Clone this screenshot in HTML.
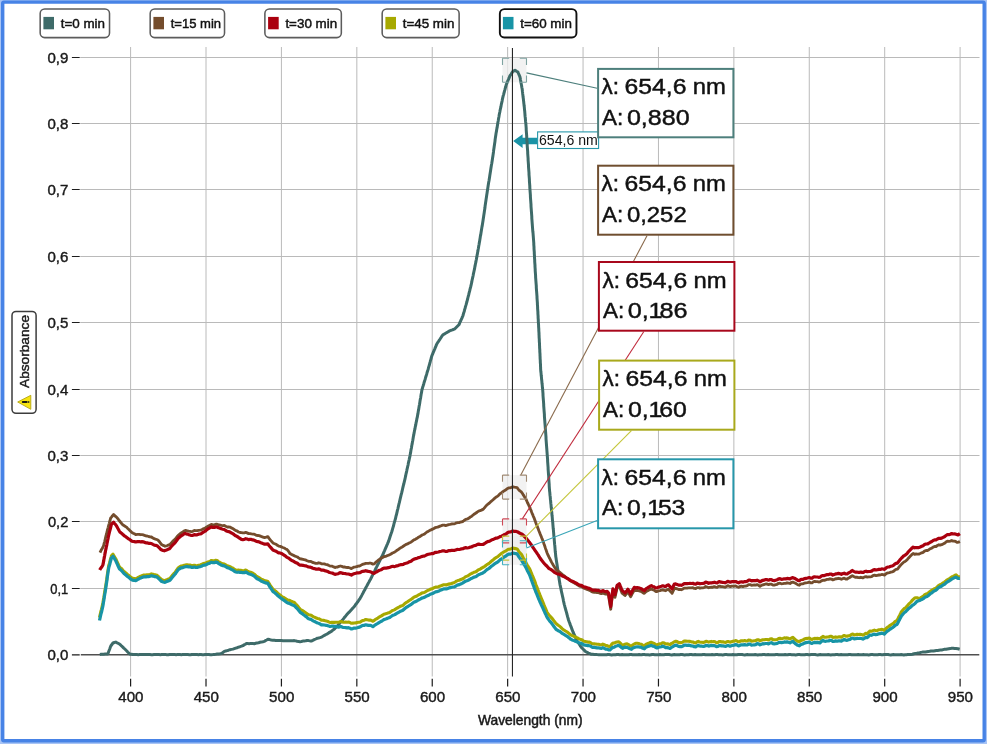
<!DOCTYPE html>
<html lang="en"><head><meta charset="utf-8"><title>Absorbance spectra</title>
<style>
html,body{margin:0;padding:0;background:#fff;}
body{width:987px;height:744px;overflow:hidden;position:relative;font-family:"Liberation Sans",Arial,sans-serif;}
svg text{font-kerning:normal;}
</style></head><body>
<svg width="987" height="744" viewBox="0 0 987 744" style="position:absolute;left:0;top:0;display:block">
<rect x="0" y="0" width="987" height="744" fill="#fff"/>
<path d="M130.60,47 V676.5 M206.01,47 V676.5 M281.42,47 V676.5 M356.83,47 V676.5 M432.24,47 V676.5 M507.64,47 V676.5 M583.05,47 V676.5 M658.46,47 V676.5 M733.87,47 V676.5 M809.28,47 V676.5 M884.69,47 V676.5 M960.10,47 V676.5 M80.2,588.50 H979.5 M80.2,521.50 H979.5 M80.2,455.50 H979.5 M80.2,389.50 H979.5 M80.2,322.50 H979.5 M80.2,256.50 H979.5 M80.2,189.50 H979.5 M80.2,123.50 H979.5 M80.2,57.50 H979.5" stroke="#bababa" stroke-width="1" fill="none"/>
<path d="M80.8,654.80 H979.3" stroke="#505050" stroke-width="1.5" fill="none"/>
<path d="M71.9,654.80 H79.7 M71.9,588.50 H79.7 M71.9,521.50 H79.7 M71.9,455.50 H79.7 M71.9,389.50 H79.7 M71.9,322.50 H79.7 M71.9,256.50 H79.7 M71.9,189.50 H79.7 M71.9,123.50 H79.7 M71.9,57.50 H79.7 M130.60,678.7 V686.4 M206.01,678.7 V686.4 M281.42,678.7 V686.4 M356.83,678.7 V686.4 M432.24,678.7 V686.4 M507.64,678.7 V686.4 M583.05,678.7 V686.4 M658.46,678.7 V686.4 M733.87,678.7 V686.4 M809.28,678.7 V686.4 M884.69,678.7 V686.4 M960.10,678.7 V686.4" stroke="#1c1c1c" stroke-width="1.2" fill="none"/>
<g font-family="'Liberation Sans', Arial, sans-serif" font-size="14.3px" fill="#1a1a1a" stroke="#1a1a1a" stroke-width="0.4" lengthAdjust="spacingAndGlyphs">
<text x="68.3" y="659.5" text-anchor="end" textLength="20.9" lengthAdjust="spacingAndGlyphs">0,0</text>
<text x="68.3" y="593.5" text-anchor="end" textLength="18.0" lengthAdjust="spacingAndGlyphs">0,1</text>
<text x="68.3" y="526.5" text-anchor="end" textLength="20.4" lengthAdjust="spacingAndGlyphs">0,2</text>
<text x="68.3" y="460.5" text-anchor="end" textLength="20.9" lengthAdjust="spacingAndGlyphs">0,3</text>
<text x="68.3" y="394.5" text-anchor="end" textLength="20.9" lengthAdjust="spacingAndGlyphs">0,4</text>
<text x="68.3" y="327.5" text-anchor="end" textLength="20.9" lengthAdjust="spacingAndGlyphs">0,5</text>
<text x="68.3" y="261.5" text-anchor="end" textLength="20.9" lengthAdjust="spacingAndGlyphs">0,6</text>
<text x="68.3" y="194.5" text-anchor="end" textLength="20.9" lengthAdjust="spacingAndGlyphs">0,7</text>
<text x="68.3" y="128.5" text-anchor="end" textLength="20.9" lengthAdjust="spacingAndGlyphs">0,8</text>
<text x="68.3" y="62.5" text-anchor="end" textLength="20.9" lengthAdjust="spacingAndGlyphs">0,9</text>
<text x="130.9" y="701.9" text-anchor="middle" textLength="25.2" lengthAdjust="spacingAndGlyphs">400</text>
<text x="206.3" y="701.9" text-anchor="middle" textLength="25.2" lengthAdjust="spacingAndGlyphs">450</text>
<text x="281.7" y="701.9" text-anchor="middle" textLength="25.2" lengthAdjust="spacingAndGlyphs">500</text>
<text x="357.1" y="701.9" text-anchor="middle" textLength="25.2" lengthAdjust="spacingAndGlyphs">550</text>
<text x="432.5" y="701.9" text-anchor="middle" textLength="25.2" lengthAdjust="spacingAndGlyphs">600</text>
<text x="507.9" y="701.9" text-anchor="middle" textLength="25.2" lengthAdjust="spacingAndGlyphs">650</text>
<text x="583.4" y="701.9" text-anchor="middle" textLength="25.2" lengthAdjust="spacingAndGlyphs">700</text>
<text x="658.8" y="701.9" text-anchor="middle" textLength="25.2" lengthAdjust="spacingAndGlyphs">750</text>
<text x="734.2" y="701.9" text-anchor="middle" textLength="25.2" lengthAdjust="spacingAndGlyphs">800</text>
<text x="809.6" y="701.9" text-anchor="middle" textLength="25.2" lengthAdjust="spacingAndGlyphs">850</text>
<text x="885.0" y="701.9" text-anchor="middle" textLength="25.2" lengthAdjust="spacingAndGlyphs">900</text>
<text x="960.4" y="701.9" text-anchor="middle" textLength="25.2" lengthAdjust="spacingAndGlyphs">950</text>
</g>
<text x="530.3" y="724.5" text-anchor="middle" font-family="'Liberation Sans', Arial, sans-serif" font-size="13.9px" fill="#1a1a1a" stroke="#1a1a1a" stroke-width="0.5" textLength="104.6" lengthAdjust="spacingAndGlyphs">Wavelength (nm)</text>
<rect x="502.5" y="58.3" width="24.0" height="24.0" fill="#eeeeee" fill-opacity="0.75"/>
<rect x="502.5" y="475.1" width="24.0" height="24.0" fill="#eeeeee" fill-opacity="0.75"/>
<rect x="502.5" y="518.9" width="24.0" height="24.0" fill="#eeeeee" fill-opacity="0.75"/>
<rect x="502.5" y="536.1" width="24.0" height="24.0" fill="#eeeeee" fill-opacity="0.75"/>
<rect x="502.5" y="540.8" width="24.0" height="24.0" fill="#eeeeee" fill-opacity="0.75"/>
<path d="M513.2,141 L522.6,134.2 L522.6,137.8 L537.3,137.8 L537.3,144.3 L522.6,144.3 L522.6,147.9 Z" fill="#1a93a6"/>
<path d="M99.8,654.4 L101.1,654.3 L102.5,654.3 L103.8,654.3 L105.1,654.1 L106.5,654.0 L107.8,654.1 L108.3,652.7 L108.8,651.3 L109.3,650.0 L109.8,648.7 L110.3,647.3 L110.8,646.0 L111.9,644.5 L113.0,643.0 L114.4,642.5 L115.8,642.1 L117.1,642.8 L118.5,643.5 L119.8,644.3 L120.8,645.2 L121.8,646.2 L122.8,647.1 L123.8,648.1 L124.8,649.0 L125.8,650.0 L126.8,651.0 L127.7,652.0 L128.7,653.0 L129.7,654.0 L131.3,654.3 L133.0,654.6 L134.3,654.5 L135.6,654.5 L136.9,654.6 L138.2,654.7 L139.5,654.6 L140.8,654.6 L142.1,654.6 L143.4,654.6 L144.8,654.6 L146.1,654.6 L147.4,654.6 L148.7,654.5 L150.0,654.6 L151.3,654.7 L152.6,654.7 L153.9,654.6 L155.2,654.6 L156.5,654.5 L157.8,654.5 L159.1,654.6 L160.4,654.7 L161.7,654.6 L163.0,654.6 L164.3,654.6 L165.6,654.6 L166.9,654.7 L168.2,654.7 L169.6,654.5 L170.9,654.5 L172.2,654.6 L173.5,654.6 L174.8,654.6 L176.1,654.7 L177.4,654.6 L178.7,654.5 L180.0,654.6 L181.3,654.7 L182.6,654.6 L183.9,654.5 L185.3,654.6 L186.6,654.6 L187.9,654.6 L189.2,654.7 L190.5,654.7 L191.8,654.5 L193.2,654.5 L194.5,654.6 L195.8,654.6 L197.1,654.6 L198.4,654.7 L199.7,654.5 L201.1,654.6 L202.4,654.7 L203.7,654.7 L205.0,654.6 L206.3,654.6 L207.6,654.5 L209.0,654.5 L210.3,654.7 L211.6,654.7 L212.9,654.6 L214.3,654.4 L215.7,654.3 L217.2,654.1 L218.6,653.9 L220.0,653.8 L221.4,653.5 L222.9,652.5 L224.3,651.4 L225.7,651.0 L227.2,650.6 L228.6,650.2 L230.0,649.7 L231.4,649.4 L232.9,649.1 L234.3,648.6 L235.7,648.1 L237.2,647.7 L238.6,647.1 L240.0,646.7 L241.5,646.2 L242.9,645.6 L244.1,644.9 L245.2,644.3 L246.4,643.6 L247.7,643.6 L249.0,643.7 L250.4,643.6 L251.7,643.5 L253.0,643.6 L254.3,643.7 L255.7,643.3 L257.2,642.9 L258.6,642.7 L260.0,642.3 L261.4,642.1 L262.9,641.8 L264.3,641.4 L265.5,640.6 L266.7,640.0 L267.9,639.3 L269.6,639.6 L271.2,640.0 L272.9,640.3 L274.3,640.3 L275.8,640.5 L277.2,640.5 L278.6,640.5 L280.0,640.5 L281.5,640.6 L282.9,640.7 L284.3,640.8 L285.8,640.7 L287.2,640.7 L288.6,640.7 L290.0,640.7 L291.4,640.7 L292.9,640.7 L294.3,640.6 L295.7,640.9 L297.1,641.3 L298.6,641.5 L300.0,641.7 L301.4,641.5 L302.8,641.1 L304.3,640.9 L305.7,640.8 L307.1,640.5 L308.5,640.6 L310.0,640.9 L311.4,641.0 L312.8,640.4 L314.2,639.7 L315.7,639.0 L317.1,638.3 L318.5,638.0 L320.0,637.6 L321.4,637.1 L322.5,636.5 L323.7,635.8 L324.9,635.1 L326.0,634.5 L327.4,633.8 L328.7,632.9 L330.0,632.1 L331.4,631.4 L332.5,630.4 L333.7,629.5 L334.9,628.5 L336.0,627.5 L337.0,626.3 L338.0,625.2 L339.0,624.0 L340.0,622.9 L340.9,621.8 L341.8,620.7 L342.7,619.7 L343.6,618.6 L344.4,617.5 L345.3,616.5 L346.2,615.4 L347.1,614.3 L348.0,613.3 L348.9,612.4 L349.8,611.4 L350.7,610.4 L351.6,609.4 L352.5,608.4 L353.4,607.5 L354.3,606.5 L355.1,605.4 L355.9,604.2 L356.7,603.2 L357.6,602.0 L358.4,600.9 L359.2,599.7 L360.0,598.6 L360.6,597.4 L361.3,596.2 L361.9,595.1 L362.5,593.9 L363.2,592.7 L363.8,591.5 L364.4,590.4 L365.1,589.2 L365.7,588.0 L366.3,586.8 L367.0,585.7 L367.6,584.5 L368.2,583.3 L368.9,582.2 L369.5,581.0 L370.1,579.9 L370.8,578.7 L371.4,577.5 L372.0,576.2 L372.7,574.9 L373.3,573.7 L373.9,572.4 L374.6,571.1 L375.2,569.8 L375.8,568.5 L376.5,567.2 L377.1,566.0 L377.7,564.7 L378.4,563.5 L379.0,562.2 L379.7,560.9 L380.3,559.6 L381.0,558.3 L381.6,557.0 L382.3,555.8 L382.9,554.5 L383.5,553.2 L384.0,551.9 L384.6,550.6 L385.1,549.3 L385.7,548.0 L386.3,546.7 L386.8,545.4 L387.4,544.1 L387.9,542.8 L388.5,541.5 L388.9,540.2 L389.4,538.9 L389.8,537.5 L390.2,536.2 L390.7,534.9 L391.1,533.6 L391.6,532.3 L392.0,531.0 L392.4,529.6 L392.8,528.2 L393.2,526.8 L393.6,525.5 L393.9,524.1 L394.3,522.7 L394.7,521.3 L395.1,519.9 L395.5,518.5 L395.8,517.2 L396.1,515.8 L396.5,514.5 L396.8,513.1 L397.1,511.8 L397.4,510.4 L397.8,509.1 L398.1,507.7 L398.4,506.4 L398.7,505.1 L399.0,503.7 L399.4,502.4 L399.7,501.0 L400.0,499.7 L400.3,498.4 L400.6,497.1 L400.9,495.8 L401.2,494.5 L401.6,493.2 L401.9,491.9 L402.2,490.6 L402.5,489.2 L402.8,487.9 L403.1,486.6 L403.4,485.3 L403.8,484.0 L404.1,482.7 L404.4,481.4 L404.7,480.1 L405.0,478.8 L405.3,477.5 L405.6,476.2 L405.8,475.0 L406.1,473.7 L406.4,472.4 L406.7,471.1 L406.9,469.9 L407.2,468.6 L407.5,467.3 L407.8,466.0 L408.1,464.8 L408.3,463.5 L408.6,462.2 L408.9,460.9 L409.2,459.6 L409.4,458.4 L409.7,457.1 L410.0,455.8 L410.2,454.5 L410.5,453.2 L410.7,451.9 L410.9,450.6 L411.1,449.3 L411.4,448.1 L411.6,446.8 L411.8,445.5 L412.1,444.2 L412.3,442.9 L412.5,441.6 L412.8,440.3 L413.0,439.1 L413.2,437.8 L413.4,436.5 L413.7,435.2 L413.9,433.9 L414.2,432.6 L414.4,431.2 L414.7,429.9 L415.0,428.6 L415.2,427.2 L415.5,425.9 L415.8,424.6 L416.0,423.2 L416.3,421.9 L416.6,420.6 L416.8,419.2 L417.1,417.9 L417.4,416.6 L417.6,415.2 L417.9,413.9 L418.1,412.6 L418.3,411.2 L418.6,409.9 L418.8,408.6 L419.0,407.3 L419.2,405.9 L419.5,404.6 L419.7,403.3 L419.9,401.9 L420.1,400.6 L420.3,399.3 L420.6,398.0 L420.8,396.6 L421.0,395.3 L421.2,394.0 L421.5,392.7 L421.7,391.3 L421.9,390.0 L422.3,388.8 L422.6,387.5 L423.0,386.3 L423.4,385.0 L423.8,383.7 L424.1,382.5 L424.5,381.2 L424.9,380.0 L425.3,378.7 L425.6,377.5 L426.0,376.2 L426.4,375.0 L426.8,373.7 L427.1,372.5 L427.5,371.2 L427.9,370.0 L428.3,368.7 L428.6,367.4 L429.0,366.1 L429.4,364.8 L429.7,363.5 L430.1,362.2 L430.4,360.9 L430.8,359.6 L431.2,358.3 L431.5,357.0 L431.9,355.7 L432.5,354.4 L433.0,353.0 L433.6,351.7 L434.1,350.4 L434.7,349.1 L435.2,347.8 L435.8,346.4 L436.3,345.1 L436.9,343.8 L437.6,342.7 L438.4,341.6 L439.1,340.4 L439.9,339.3 L440.6,338.2 L441.4,337.0 L442.1,335.9 L442.9,334.8 L444.1,334.2 L445.2,333.5 L446.4,332.8 L447.6,332.1 L448.7,331.4 L449.9,330.7 L451.1,330.3 L452.4,329.9 L453.6,329.3 L454.9,328.8 L455.9,327.8 L456.9,326.8 L457.9,325.8 L458.9,324.8 L459.5,323.5 L460.0,322.2 L460.6,321.0 L461.2,319.7 L461.8,318.4 L462.3,317.1 L462.9,315.8 L463.3,314.5 L463.6,313.2 L464.0,312.0 L464.4,310.7 L464.7,309.4 L465.1,308.2 L465.4,306.9 L465.8,305.6 L466.2,304.4 L466.5,303.1 L466.9,301.8 L467.2,300.5 L467.6,299.2 L467.9,297.8 L468.2,296.5 L468.6,295.2 L468.9,293.9 L469.2,292.5 L469.6,291.2 L469.9,289.9 L470.2,288.5 L470.6,287.2 L470.9,285.9 L471.2,284.6 L471.5,283.2 L471.8,281.9 L472.0,280.6 L472.3,279.2 L472.6,277.9 L472.9,276.6 L473.2,275.2 L473.4,273.9 L473.7,272.6 L474.0,271.2 L474.3,269.9 L474.6,268.6 L474.8,267.2 L475.1,265.9 L475.3,264.6 L475.6,263.2 L475.9,261.9 L476.1,260.6 L476.4,259.2 L476.6,257.9 L476.9,256.6 L477.1,255.2 L477.4,253.9 L477.6,252.5 L477.9,251.1 L478.1,249.7 L478.4,248.3 L478.6,247.0 L478.8,245.6 L479.1,244.2 L479.3,242.8 L479.6,241.4 L479.8,240.0 L480.0,238.7 L480.2,237.4 L480.4,236.1 L480.7,234.9 L480.9,233.6 L481.1,232.3 L481.3,231.0 L481.5,229.7 L481.7,228.4 L481.9,227.2 L482.2,225.9 L482.4,224.6 L482.6,223.3 L482.8,222.0 L483.0,220.7 L483.2,219.3 L483.4,218.0 L483.6,216.7 L483.8,215.3 L484.0,214.0 L484.2,212.7 L484.4,211.3 L484.6,210.0 L484.8,208.7 L485.0,207.3 L485.1,206.0 L485.3,204.7 L485.5,203.3 L485.7,202.0 L485.9,200.7 L486.1,199.3 L486.3,198.0 L486.5,196.7 L486.7,195.3 L486.9,194.0 L487.1,192.7 L487.3,191.3 L487.5,190.0 L487.7,188.7 L487.9,187.4 L488.1,186.1 L488.3,184.8 L488.5,183.5 L488.7,182.2 L489.0,180.8 L489.2,179.5 L489.4,178.2 L489.6,176.9 L489.8,175.6 L490.0,174.3 L490.2,173.0 L490.4,171.7 L490.6,170.4 L490.8,169.1 L491.0,167.8 L491.2,166.5 L491.4,165.2 L491.7,163.8 L491.9,162.5 L492.1,161.2 L492.3,159.9 L492.5,158.6 L492.7,157.3 L492.9,156.0 L493.1,154.6 L493.3,153.3 L493.5,151.9 L493.6,150.6 L493.8,149.2 L494.0,147.9 L494.2,146.5 L494.4,145.2 L494.6,143.8 L494.8,142.5 L495.0,141.1 L495.1,139.8 L495.3,138.4 L495.5,137.1 L495.7,135.7 L495.9,134.4 L496.1,133.0 L496.4,131.7 L496.6,130.3 L496.8,129.0 L497.1,127.7 L497.3,126.3 L497.5,125.0 L497.7,123.7 L497.9,122.3 L498.2,121.0 L498.4,119.6 L498.6,118.3 L498.9,117.0 L499.1,115.6 L499.3,114.3 L499.6,113.0 L499.9,111.6 L500.1,110.3 L500.4,109.0 L500.7,107.7 L501.0,106.4 L501.2,105.0 L501.5,103.7 L501.8,102.4 L502.1,101.1 L502.3,99.8 L502.6,98.4 L502.9,97.1 L503.2,95.8 L503.6,94.6 L503.9,93.3 L504.3,92.0 L504.6,90.7 L505.0,89.4 L505.3,88.1 L505.7,86.8 L506.0,85.6 L506.4,84.3 L506.9,83.1 L507.4,81.8 L507.9,80.6 L508.5,79.4 L509.0,78.2 L509.5,76.9 L510.0,75.7 L511.0,74.3 L511.9,72.9 L512.9,71.4 L515.0,70.3 L516.5,71.3 L517.9,72.1 L518.4,73.4 L519.0,74.6 L519.5,75.8 L520.0,77.1 L520.3,78.5 L520.5,80.0 L520.8,81.4 L521.0,82.8 L521.3,84.3 L521.6,85.7 L521.8,87.2 L522.1,88.6 L522.3,89.9 L522.4,91.2 L522.6,92.6 L522.7,93.9 L522.9,95.2 L523.0,96.5 L523.2,97.8 L523.4,99.2 L523.5,100.5 L523.7,101.8 L523.8,103.1 L524.0,104.5 L524.1,105.8 L524.3,107.1 L524.4,108.4 L524.5,109.8 L524.7,111.1 L524.8,112.4 L524.9,113.7 L525.0,115.1 L525.1,116.4 L525.3,117.7 L525.4,119.1 L525.5,120.4 L525.6,121.7 L525.8,123.0 L525.9,124.4 L526.0,125.7 L526.1,127.0 L526.2,128.3 L526.2,129.7 L526.3,131.0 L526.4,132.3 L526.5,133.6 L526.6,134.9 L526.7,136.2 L526.7,137.6 L526.8,138.9 L526.9,140.2 L527.0,141.5 L527.1,142.8 L527.2,144.1 L527.2,145.5 L527.3,146.8 L527.4,148.1 L527.5,149.4 L527.6,150.7 L527.7,152.0 L527.7,153.4 L527.8,154.7 L527.9,156.0 L528.0,157.3 L528.1,158.6 L528.1,159.9 L528.2,161.2 L528.3,162.5 L528.4,163.8 L528.5,165.2 L528.5,166.5 L528.6,167.8 L528.7,169.1 L528.8,170.4 L528.9,171.7 L529.0,173.0 L529.0,174.3 L529.1,175.6 L529.2,176.9 L529.3,178.2 L529.4,179.5 L529.4,180.8 L529.5,182.2 L529.6,183.5 L529.7,184.8 L529.8,186.1 L529.8,187.4 L529.9,188.7 L530.0,190.0 L530.1,191.3 L530.2,192.7 L530.3,194.0 L530.4,195.3 L530.4,196.7 L530.5,198.0 L530.6,199.3 L530.7,200.7 L530.8,202.0 L530.9,203.3 L531.0,204.7 L531.0,206.0 L531.1,207.3 L531.2,208.7 L531.3,210.0 L531.4,211.3 L531.5,212.7 L531.6,214.0 L531.7,215.3 L531.8,216.7 L531.8,218.0 L531.9,219.3 L532.0,220.7 L532.1,222.0 L532.2,223.3 L532.3,224.7 L532.4,226.0 L532.5,227.3 L532.6,228.7 L532.7,230.0 L532.8,231.3 L533.0,232.7 L533.1,234.0 L533.2,235.3 L533.3,236.7 L533.4,238.0 L533.5,239.3 L533.6,240.7 L533.7,242.0 L533.8,243.3 L533.8,244.6 L533.9,245.9 L534.0,247.2 L534.0,248.5 L534.1,249.8 L534.2,251.1 L534.3,252.4 L534.3,253.7 L534.4,255.0 L534.5,256.3 L534.5,257.6 L534.6,258.9 L534.7,260.2 L534.7,261.5 L534.8,262.8 L534.9,264.1 L535.0,265.4 L535.0,266.7 L535.1,268.0 L535.2,269.3 L535.2,270.6 L535.3,271.9 L535.4,273.2 L535.5,274.5 L535.6,275.8 L535.6,277.1 L535.7,278.4 L535.8,279.7 L535.9,281.0 L536.0,282.3 L536.1,283.6 L536.2,284.9 L536.3,286.2 L536.3,287.5 L536.4,288.8 L536.5,290.1 L536.6,291.4 L536.7,292.7 L536.8,294.0 L536.9,295.3 L537.0,296.6 L537.0,297.9 L537.1,299.2 L537.2,300.5 L537.3,301.8 L537.4,303.1 L537.4,304.4 L537.5,305.7 L537.6,307.0 L537.6,308.3 L537.7,309.6 L537.8,310.9 L537.9,312.2 L537.9,313.5 L538.0,314.8 L538.1,316.2 L538.1,317.5 L538.2,318.8 L538.3,320.1 L538.3,321.4 L538.4,322.7 L538.5,324.0 L538.6,325.3 L538.6,326.6 L538.7,327.9 L538.8,329.2 L538.8,330.5 L538.9,331.8 L539.0,333.1 L539.0,334.4 L539.1,335.8 L539.1,337.1 L539.2,338.4 L539.3,339.7 L539.3,341.0 L539.4,342.3 L539.5,343.7 L539.5,345.0 L539.6,346.3 L539.6,347.6 L539.7,348.9 L539.8,350.2 L539.8,351.6 L539.9,352.9 L540.0,354.2 L540.0,355.5 L540.1,356.8 L540.1,358.1 L540.2,359.5 L540.3,360.8 L540.3,362.1 L540.4,363.4 L540.5,364.7 L540.5,366.0 L540.6,367.4 L540.6,368.7 L540.7,370.0 L540.8,371.3 L541.0,372.7 L541.1,374.0 L541.2,375.3 L541.4,376.7 L541.5,378.0 L541.6,379.3 L541.8,380.7 L541.9,382.0 L542.0,383.3 L542.2,384.7 L542.3,386.0 L542.4,387.3 L542.6,388.7 L542.7,390.0 L542.8,391.3 L542.9,392.6 L543.0,393.9 L543.0,395.2 L543.1,396.5 L543.2,397.8 L543.3,399.1 L543.4,400.4 L543.5,401.7 L543.6,403.0 L543.7,404.3 L543.7,405.6 L543.8,406.9 L543.9,408.2 L544.0,409.5 L544.1,410.8 L544.2,412.1 L544.3,413.4 L544.4,414.7 L544.4,416.0 L544.5,417.3 L544.6,418.6 L544.7,419.9 L544.8,421.2 L544.9,422.6 L545.0,423.9 L545.1,425.2 L545.2,426.5 L545.3,427.9 L545.4,429.2 L545.5,430.5 L545.6,431.9 L545.7,433.2 L545.8,434.5 L545.9,435.9 L546.0,437.2 L546.0,438.5 L546.1,439.8 L546.2,441.2 L546.3,442.5 L546.4,443.8 L546.5,445.2 L546.6,446.5 L546.7,447.8 L546.8,449.2 L546.9,450.5 L547.0,451.8 L547.1,453.1 L547.2,454.5 L547.3,455.8 L547.4,457.1 L547.5,458.4 L547.6,459.7 L547.6,461.0 L547.7,462.3 L547.8,463.6 L547.9,465.0 L548.0,466.3 L548.1,467.6 L548.1,468.9 L548.2,470.2 L548.3,471.5 L548.4,472.8 L548.5,474.1 L548.6,475.4 L548.7,476.7 L548.7,478.0 L548.8,479.3 L548.9,480.6 L549.0,482.0 L549.1,483.3 L549.2,484.6 L549.2,485.9 L549.3,487.2 L549.4,488.5 L549.5,489.8 L549.6,491.1 L549.8,492.5 L549.9,493.8 L550.0,495.2 L550.2,496.5 L550.3,497.9 L550.4,499.2 L550.6,500.5 L550.7,501.9 L550.8,503.2 L551.0,504.6 L551.1,505.9 L551.2,507.3 L551.4,508.6 L551.5,509.9 L551.6,511.3 L551.8,512.6 L551.9,514.0 L552.0,515.3 L552.2,516.7 L552.3,518.0 L552.4,519.3 L552.5,520.6 L552.7,521.9 L552.8,523.2 L552.9,524.6 L553.0,525.9 L553.1,527.2 L553.2,528.5 L553.4,529.8 L553.5,531.1 L553.6,532.4 L553.7,533.7 L553.8,535.0 L553.9,536.3 L554.1,537.7 L554.2,539.0 L554.3,540.3 L554.4,541.6 L554.5,542.9 L554.6,544.2 L554.8,545.5 L554.9,546.8 L555.0,548.1 L555.1,549.5 L555.2,550.8 L555.3,552.1 L555.5,553.4 L555.6,554.7 L555.7,556.0 L555.9,557.3 L556.1,558.6 L556.3,559.9 L556.5,561.2 L556.7,562.5 L556.9,563.8 L557.1,565.1 L557.3,566.4 L557.5,567.7 L557.7,569.0 L557.9,570.3 L558.0,571.6 L558.2,572.9 L558.4,574.2 L558.6,575.5 L558.8,576.8 L559.0,578.1 L559.2,579.4 L559.4,580.7 L559.6,582.0 L559.8,583.3 L560.0,584.6 L560.3,585.9 L560.6,587.3 L560.9,588.6 L561.1,589.9 L561.4,591.3 L561.7,592.6 L562.0,593.9 L562.3,595.3 L562.6,596.6 L562.9,597.9 L563.2,599.3 L563.4,600.6 L563.7,601.9 L564.0,603.3 L564.3,604.6 L564.7,605.9 L565.0,607.2 L565.4,608.5 L565.7,609.8 L566.1,611.1 L566.5,612.4 L566.8,613.8 L567.2,615.1 L567.5,616.4 L567.9,617.7 L568.2,619.0 L568.6,620.3 L569.1,621.6 L569.6,622.8 L570.0,624.1 L570.5,625.4 L571.0,626.6 L571.5,627.9 L571.9,629.2 L572.4,630.4 L572.9,631.7 L573.5,633.0 L574.1,634.3 L574.7,635.7 L575.3,637.0 L575.9,638.4 L576.5,639.7 L577.1,641.0 L578.0,642.3 L578.8,643.5 L579.7,644.8 L580.5,646.1 L581.4,647.4 L582.5,648.5 L583.5,649.5 L584.6,650.6 L585.7,651.7 L587.1,652.3 L588.5,653.0 L590.0,653.7 L591.4,654.3 L592.8,654.3 L594.3,654.4 L595.7,654.4 L597.1,654.6 L598.6,654.7 L600.0,654.7 L601.3,654.7 L602.6,654.7 L603.9,654.7 L605.2,654.7 L606.5,654.8 L607.8,654.6 L609.1,654.5 L610.4,654.7 L611.7,654.9 L613.0,654.8 L614.3,654.7 L615.6,654.7 L616.9,654.5 L618.3,654.6 L619.6,654.8 L620.9,654.7 L622.2,654.6 L623.5,654.7 L624.8,654.7 L626.1,654.7 L627.4,654.8 L628.7,654.8 L630.0,654.5 L631.3,654.5 L632.6,654.7 L633.9,654.8 L635.2,654.8 L636.5,654.8 L637.8,654.7 L639.1,654.6 L640.4,654.7 L641.7,654.8 L643.0,654.6 L644.3,654.6 L645.6,654.7 L646.9,654.7 L648.2,654.8 L649.5,654.9 L650.8,654.7 L652.2,654.5 L653.5,654.6 L654.8,654.7 L656.1,654.7 L657.4,654.8 L658.7,654.8 L660.0,654.6 L661.3,654.7 L662.6,654.8 L663.9,654.8 L665.2,654.6 L666.5,654.6 L667.8,654.6 L669.1,654.6 L670.4,654.8 L671.7,654.9 L673.0,654.7 L674.3,654.6 L675.6,654.7 L676.9,654.7 L678.2,654.7 L679.5,654.8 L680.8,654.6 L682.1,654.5 L683.4,654.7 L684.7,654.9 L686.1,654.8 L687.4,654.7 L688.7,654.7 L690.0,654.5 L691.3,654.6 L692.6,654.8 L693.9,654.8 L695.2,654.6 L696.5,654.7 L697.8,654.7 L699.1,654.7 L700.4,654.8 L701.7,654.7 L703.0,654.5 L704.3,654.5 L705.6,654.8 L706.9,654.8 L708.2,654.8 L709.5,654.8 L710.8,654.7 L712.1,654.6 L713.4,654.7 L714.7,654.8 L716.0,654.6 L717.3,654.6 L718.6,654.7 L719.9,654.7 L721.3,654.8 L722.6,654.9 L723.9,654.7 L725.2,654.5 L726.5,654.6 L727.8,654.7 L729.1,654.7 L730.4,654.8 L731.7,654.8 L733.0,654.6 L734.3,654.7 L735.6,654.8 L736.9,654.8 L738.2,654.6 L739.5,654.6 L740.8,654.6 L742.1,654.6 L743.4,654.8 L744.7,654.9 L746.0,654.7 L747.3,654.6 L748.6,654.7 L749.9,654.7 L751.2,654.7 L752.5,654.8 L753.8,654.7 L755.2,654.6 L756.5,654.7 L757.8,654.9 L759.1,654.8 L760.4,654.7 L761.7,654.7 L763.0,654.5 L764.3,654.6 L765.6,654.8 L766.9,654.8 L768.2,654.6 L769.5,654.7 L770.8,654.7 L772.1,654.7 L773.4,654.8 L774.7,654.7 L776.0,654.5 L777.3,654.5 L778.6,654.8 L779.9,654.8 L781.2,654.8 L782.5,654.8 L783.8,654.7 L785.1,654.6 L786.4,654.7 L787.7,654.8 L789.1,654.6 L790.4,654.6 L791.7,654.7 L793.0,654.7 L794.3,654.8 L795.6,654.9 L796.9,654.7 L798.2,654.5 L799.5,654.6 L800.8,654.7 L802.1,654.7 L803.4,654.8 L804.7,654.8 L806.0,654.6 L807.3,654.6 L808.6,654.8 L809.9,654.8 L811.2,654.6 L812.5,654.6 L813.8,654.6 L815.1,654.6 L816.4,654.8 L817.7,654.9 L819.0,654.7 L820.3,654.6 L821.6,654.7 L822.9,654.7 L824.3,654.7 L825.6,654.8 L826.9,654.7 L828.2,654.6 L829.5,654.7 L830.8,654.9 L832.1,654.8 L833.4,654.7 L834.7,654.7 L836.0,654.5 L837.3,654.6 L838.6,654.8 L839.9,654.8 L841.2,654.6 L842.5,654.7 L843.8,654.7 L845.1,654.7 L846.4,654.8 L847.7,654.7 L849.0,654.5 L850.3,654.5 L851.6,654.8 L852.9,654.8 L854.2,654.8 L855.5,654.8 L856.8,654.7 L858.2,654.5 L859.5,654.7 L860.8,654.8 L862.1,654.7 L863.4,654.6 L864.7,654.7 L866.0,654.7 L867.3,654.8 L868.6,654.9 L869.9,654.7 L871.2,654.5 L872.5,654.6 L873.8,654.7 L875.1,654.7 L876.4,654.8 L877.7,654.8 L879.0,654.6 L880.3,654.6 L881.6,654.8 L882.9,654.8 L884.2,654.6 L885.5,654.6 L886.8,654.6 L888.1,654.6 L889.4,654.8 L890.7,654.9 L892.1,654.7 L893.4,654.6 L894.7,654.7 L896.0,654.7 L897.3,654.7 L898.6,654.8 L899.9,654.7 L901.2,654.6 L902.5,654.7 L903.8,654.9 L905.1,654.7 L906.4,654.7 L907.7,654.6 L909.0,654.6 L910.7,654.4 L912.3,654.2 L914.0,653.7 L915.4,653.4 L916.8,653.2 L918.2,652.9 L919.6,652.7 L921.0,652.4 L922.5,652.1 L923.9,652.0 L925.4,652.0 L926.8,651.7 L928.2,651.5 L929.7,651.3 L931.0,651.0 L932.4,651.0 L933.7,650.9 L935.0,650.7 L936.4,650.5 L937.7,650.4 L939.0,650.2 L940.4,650.1 L941.7,650.0 L943.1,649.6 L944.6,649.3 L946.0,649.2 L947.4,649.0 L948.8,648.8 L950.3,648.6 L951.7,648.3 L953.1,648.3 L954.6,648.5 L956.0,648.5 L957.9,648.8 L959.7,649.3" stroke="#3e6b69" stroke-width="3.0" fill="none" stroke-linejoin="round" stroke-linecap="butt"/>
<path d="M100.0,552.6 L100.7,551.1 L101.4,549.8 L102.2,548.5 L102.9,547.1 L103.6,545.7 L103.9,544.4 L104.2,543.1 L104.6,541.8 L104.9,540.5 L105.2,539.2 L105.5,537.9 L105.8,536.6 L106.1,535.3 L106.5,534.0 L106.8,532.7 L107.1,531.4 L107.5,530.0 L107.8,528.7 L108.2,527.3 L108.5,526.0 L108.9,524.6 L109.3,523.3 L109.6,522.0 L110.0,520.7 L110.3,519.3 L110.7,518.0 L111.7,516.9 L112.6,515.6 L113.6,514.5 L114.7,515.6 L115.8,516.6 L116.8,517.6 L117.9,518.7 L118.7,519.9 L119.6,521.0 L120.4,522.0 L121.3,523.0 L122.1,524.2 L123.5,525.3 L125.0,526.2 L126.4,527.1 L127.5,528.2 L128.6,529.2 L129.6,530.2 L130.7,531.4 L131.9,532.5 L133.2,533.2 L134.4,533.8 L135.7,534.6 L137.4,534.3 L139.0,534.3 L140.7,534.7 L142.0,534.6 L143.3,534.8 L144.5,535.4 L145.8,535.8 L147.1,536.0 L148.6,536.5 L150.0,536.8 L151.4,537.0 L152.9,538.0 L154.2,538.7 L155.4,539.1 L156.7,539.5 L157.9,540.0 L158.8,541.0 L159.7,542.0 L160.5,543.2 L161.4,544.4 L162.6,545.1 L163.8,545.6 L165.0,546.2 L166.2,545.9 L167.5,545.5 L168.8,544.9 L170.0,544.5 L171.1,543.3 L172.2,542.0 L173.2,540.8 L174.3,539.9 L175.2,539.1 L176.0,538.1 L176.9,537.0 L177.7,536.0 L178.6,535.1 L179.7,534.2 L180.9,533.2 L182.0,532.4 L183.2,531.7 L184.3,530.8 L185.7,530.5 L187.2,530.8 L188.6,531.2 L190.0,531.4 L191.4,531.6 L192.8,531.3 L194.3,530.5 L195.7,530.6 L197.1,530.6 L198.6,530.3 L200.0,530.2 L201.4,529.9 L202.7,529.1 L203.9,528.6 L205.2,528.2 L206.4,527.2 L207.7,526.3 L208.9,525.7 L210.2,525.1 L211.4,524.4 L212.8,524.8 L214.2,524.8 L215.7,524.2 L217.1,524.2 L218.6,524.8 L220.0,525.0 L221.4,525.4 L222.9,525.6 L224.3,525.5 L225.7,526.3 L227.2,527.0 L228.6,526.9 L230.0,527.1 L231.2,527.8 L232.5,528.3 L233.7,529.2 L234.9,530.1 L236.1,530.7 L237.4,531.2 L238.6,532.0 L240.0,532.5 L241.4,532.6 L242.9,532.9 L244.3,532.8 L245.7,532.4 L247.1,532.9 L248.6,533.6 L250.0,533.6 L251.5,533.9 L252.9,534.1 L254.2,534.2 L255.4,534.8 L256.6,535.4 L257.9,535.5 L259.1,535.6 L260.4,536.1 L261.6,536.7 L262.9,537.1 L264.6,537.6 L266.2,537.2 L267.9,536.6 L268.9,538.2 L269.9,539.5 L270.9,540.6 L271.9,541.7 L272.9,542.9 L274.1,543.5 L275.3,544.0 L276.5,544.6 L277.8,545.6 L279.0,546.2 L280.2,546.4 L281.4,546.9 L282.8,547.5 L284.2,548.0 L285.7,548.9 L287.1,549.6 L288.1,550.7 L289.0,552.1 L290.0,553.6 L291.2,554.3 L292.5,554.9 L293.7,555.4 L294.9,556.1 L296.1,556.5 L297.4,557.0 L298.6,557.9 L300.0,558.8 L301.4,559.0 L302.9,559.3 L304.3,559.7 L305.7,560.0 L307.1,560.7 L308.5,561.3 L310.0,561.3 L311.4,561.7 L312.8,562.5 L314.3,562.8 L315.7,563.3 L317.1,563.3 L318.6,562.8 L320.0,563.1 L321.4,563.8 L322.9,563.8 L324.3,563.9 L325.6,564.3 L327.0,564.6 L328.3,565.1 L329.6,565.9 L331.0,566.1 L332.3,566.2 L333.7,566.9 L335.0,567.5 L336.3,567.2 L337.7,567.0 L339.0,566.4 L340.4,566.0 L341.8,566.4 L343.1,567.0 L344.5,567.0 L345.9,567.3 L347.3,567.5 L348.6,567.5 L350.0,568.0 L351.4,568.6 L352.8,567.8 L354.2,567.1 L355.6,566.9 L357.0,566.5 L358.2,566.2 L359.5,566.0 L360.7,565.4 L362.0,564.6 L363.2,564.2 L364.5,563.9 L365.7,563.3 L367.1,563.3 L368.6,563.4 L370.0,563.0 L371.4,563.4 L372.9,564.1 L374.3,563.9 L375.3,562.8 L376.3,561.9 L377.3,561.1 L378.4,560.2 L379.4,559.4 L380.4,558.8 L381.4,558.1 L382.6,557.4 L383.9,556.7 L385.1,556.5 L386.4,556.1 L387.6,555.5 L388.9,555.1 L390.1,554.5 L391.4,553.7 L392.5,553.0 L393.7,552.5 L394.8,551.9 L396.0,551.1 L397.1,550.2 L398.3,549.5 L399.4,548.7 L400.6,547.8 L401.8,547.2 L402.9,546.6 L404.0,545.7 L405.2,544.9 L406.3,544.3 L407.5,543.9 L408.6,543.3 L409.7,542.7 L410.9,542.2 L412.0,541.4 L413.2,540.4 L414.3,539.7 L415.4,539.3 L416.6,538.6 L417.7,537.8 L418.9,537.1 L420.0,536.5 L421.1,535.7 L422.3,534.9 L423.4,534.5 L424.6,533.9 L425.7,533.0 L426.9,532.0 L428.0,531.4 L429.2,530.8 L430.3,530.1 L431.5,529.6 L432.6,529.1 L433.9,528.5 L435.1,527.7 L436.4,527.4 L437.6,527.2 L438.9,526.6 L440.1,526.1 L441.4,525.7 L442.8,525.2 L444.3,525.1 L445.7,525.6 L447.1,525.2 L448.5,524.6 L450.0,524.4 L451.4,524.0 L452.7,523.8 L454.0,523.9 L455.2,523.5 L456.5,522.8 L457.8,522.6 L459.1,522.6 L460.3,522.2 L461.6,521.8 L462.9,521.5 L464.1,520.5 L465.3,519.6 L466.5,519.2 L467.8,518.8 L469.0,518.0 L470.2,517.1 L471.4,516.5 L472.5,515.5 L473.7,514.5 L474.8,513.8 L476.0,513.1 L477.1,512.1 L478.6,511.1 L480.0,510.7 L481.4,510.1 L482.9,509.4 L483.9,508.4 L485.0,507.2 L486.1,505.9 L487.1,504.8 L488.1,504.0 L489.2,503.3 L490.2,502.3 L491.2,501.3 L492.2,500.5 L493.3,499.6 L494.3,498.6 L495.3,497.7 L496.3,497.0 L497.3,496.4 L498.4,495.5 L499.4,494.4 L500.4,493.5 L501.4,492.8 L502.5,492.0 L503.7,491.1 L504.8,490.4 L506.0,489.7 L507.1,488.7 L508.6,487.9 L510.0,487.8 L511.4,487.4 L512.9,486.8 L514.3,487.2 L515.7,487.4 L517.1,487.7 L518.2,489.1 L519.2,490.3 L520.3,491.2 L521.4,492.0 L522.3,493.3 L523.1,494.6 L524.0,495.9 L524.8,497.2 L525.7,498.5 L526.3,499.9 L526.9,501.3 L527.5,502.7 L528.2,504.0 L528.8,505.3 L529.4,506.5 L530.0,507.8 L530.5,509.2 L531.1,510.6 L531.6,512.0 L532.1,513.3 L532.7,514.6 L533.2,516.0 L533.8,517.3 L534.3,518.6 L534.8,519.9 L535.3,521.2 L535.7,522.4 L536.2,523.7 L536.7,524.9 L537.2,526.1 L537.6,527.4 L538.1,528.6 L538.6,529.9 L539.1,531.3 L539.7,532.7 L540.2,534.1 L540.8,535.5 L541.3,536.8 L541.8,538.1 L542.4,539.4 L542.9,540.7 L543.4,542.1 L543.8,543.4 L544.3,544.8 L544.8,546.2 L545.2,547.5 L545.7,548.9 L546.2,550.2 L546.6,551.6 L547.1,553.0 L547.7,554.3 L548.3,555.6 L548.9,556.9 L549.6,558.2 L550.2,559.4 L550.8,560.6 L551.4,561.9 L552.1,563.1 L552.8,564.3 L553.5,565.5 L554.3,566.7 L555.0,567.9 L555.7,569.1 L556.8,570.1 L557.8,570.9 L558.9,571.6 L559.9,572.3 L561.0,573.4 L562.1,574.4 L563.2,575.2 L564.3,576.0 L565.4,576.8 L566.4,577.7 L567.5,578.3 L568.6,579.1 L569.7,580.1 L570.8,581.0 L571.8,581.6 L572.9,582.2 L574.1,582.8 L575.3,583.6 L576.6,584.3 L577.8,585.1 L579.0,585.9 L580.2,586.3 L581.5,586.6 L582.7,587.4 L583.9,588.2 L585.2,588.6 L586.5,589.1 L587.8,589.7 L589.1,590.1 L590.4,590.7 L591.7,591.7 L593.0,592.1 L594.3,592.3 L595.7,592.4 L597.1,592.5 L598.6,592.7 L600.0,593.3 L601.4,593.6 L602.8,593.0 L604.3,593.6 L605.7,594.1 L607.1,593.9 L608.6,595.7 L608.8,597.0 L609.0,598.4 L609.2,599.7 L609.4,601.1 L609.7,602.4 L609.9,603.8 L610.1,605.2 L610.3,606.5 L610.5,607.9 L610.7,609.2 L610.9,607.8 L611.0,606.5 L611.2,605.1 L611.4,603.7 L611.5,602.4 L611.7,601.0 L611.9,599.6 L612.1,598.3 L612.2,596.9 L612.4,595.6 L612.6,594.2 L612.7,592.9 L612.9,591.5 L613.4,593.0 L614.0,594.5 L614.5,595.9 L615.0,597.3 L615.3,595.9 L615.6,594.6 L615.9,593.2 L616.2,591.9 L616.5,590.6 L616.8,589.2 L617.1,587.9 L619.3,586.3 L619.9,587.7 L620.4,589.0 L621.0,590.4 L621.5,591.7 L622.1,593.1 L623.1,593.9 L624.0,594.6 L625.0,595.5 L626.0,594.4 L626.9,593.2 L627.9,591.9 L628.6,593.1 L629.3,594.3 L630.0,595.5 L630.7,596.7 L631.4,595.3 L632.1,593.9 L632.9,592.5 L633.6,591.2 L634.3,590.1 L635.7,590.6 L637.2,590.4 L638.6,590.6 L640.0,591.2 L641.5,591.6 L642.9,592.7 L644.3,593.4 L645.5,592.1 L646.7,591.2 L647.8,590.7 L649.0,590.1 L650.2,589.4 L651.4,588.9 L652.5,589.7 L653.5,590.0 L654.6,590.5 L655.7,591.5 L657.1,591.5 L658.5,590.8 L660.0,590.6 L661.4,590.2 L662.8,589.8 L664.3,590.4 L665.7,590.7 L667.2,589.6 L668.6,589.3 L669.8,590.8 L670.9,591.9 L672.1,593.3 L672.6,592.1 L673.2,590.9 L673.8,589.7 L674.3,588.4 L675.7,588.3 L677.1,588.8 L678.6,589.5 L680.0,589.4 L681.4,589.7 L682.8,589.0 L684.2,588.1 L685.7,588.1 L687.1,588.1 L688.5,587.9 L690.0,587.8 L691.4,587.9 L692.9,587.7 L694.3,588.4 L695.7,588.5 L697.2,587.6 L698.6,587.7 L700.0,588.2 L701.5,587.9 L702.9,587.9 L704.3,587.5 L705.7,586.5 L707.2,587.0 L708.6,587.7 L710.0,587.3 L711.4,587.2 L712.8,587.2 L714.3,586.7 L715.7,587.1 L717.1,587.3 L718.4,586.4 L719.7,586.1 L721.1,586.6 L722.4,586.7 L723.7,586.9 L725.0,587.2 L726.4,586.5 L727.7,585.7 L729.0,586.2 L730.3,586.6 L731.7,586.1 L733.0,586.2 L734.3,586.2 L735.7,586.0 L737.2,586.7 L738.6,587.3 L740.0,586.5 L741.5,586.2 L742.9,586.6 L744.3,586.1 L745.8,586.0 L747.2,585.7 L748.6,584.6 L750.0,584.6 L751.5,585.3 L752.9,585.1 L754.3,585.0 L755.7,585.1 L757.1,584.6 L758.6,585.3 L760.0,586.3 L761.4,585.4 L762.8,584.8 L764.3,584.5 L765.7,584.0 L767.1,584.0 L768.5,584.6 L770.0,584.1 L771.4,584.2 L772.9,585.0 L774.3,585.1 L775.7,584.7 L777.1,584.3 L778.6,583.3 L780.0,583.2 L781.4,583.8 L782.8,583.6 L784.3,583.3 L785.7,583.3 L787.1,582.8 L788.6,583.1 L790.0,583.5 L791.4,582.5 L792.9,582.1 L794.3,582.7 L795.5,583.3 L796.8,584.1 L798.0,584.9 L799.3,585.2 L800.5,584.1 L801.8,583.9 L803.0,583.8 L804.3,583.2 L806.0,582.8 L807.6,582.6 L809.3,582.1 L810.6,582.8 L812.0,582.8 L813.3,581.8 L814.6,581.4 L815.9,581.7 L817.3,581.6 L818.6,582.0 L820.0,581.9 L821.4,580.9 L822.9,580.2 L824.3,580.3 L825.7,579.8 L827.1,579.4 L828.6,579.4 L830.0,578.8 L831.4,579.1 L832.8,579.9 L834.2,579.4 L835.7,578.7 L837.1,578.7 L838.5,578.3 L840.0,578.6 L841.4,579.2 L842.8,578.6 L844.2,578.2 L845.7,579.0 L847.1,579.0 L848.4,578.1 L849.7,577.5 L851.0,576.5 L852.3,575.6 L853.7,576.5 L855.2,577.2 L856.6,577.2 L858.1,577.5 L859.5,577.7 L860.8,577.3 L862.1,577.7 L863.4,577.7 L864.7,576.8 L866.0,576.6 L867.3,577.1 L868.8,576.9 L870.2,576.8 L871.6,576.6 L873.1,575.5 L874.5,575.1 L876.0,575.6 L877.4,575.3 L878.8,575.0 L880.2,575.0 L881.7,574.5 L883.1,574.7 L884.5,575.1 L885.8,574.0 L887.0,573.1 L888.3,572.8 L889.5,572.6 L890.8,572.2 L892.1,571.9 L893.4,571.4 L894.7,570.2 L896.0,569.4 L897.3,569.2 L898.2,568.2 L899.0,567.1 L899.9,566.0 L900.7,565.1 L901.6,564.1 L902.8,563.0 L903.9,562.0 L905.1,561.4 L906.2,560.6 L907.4,559.4 L908.4,558.2 L909.3,557.2 L910.2,556.3 L911.2,555.3 L912.1,554.3 L913.1,553.5 L914.5,554.3 L916.0,554.0 L917.4,554.1 L918.8,554.1 L920.2,553.5 L921.7,552.8 L923.1,552.3 L924.5,551.1 L926.0,550.5 L927.5,550.5 L928.9,549.7 L930.3,548.7 L931.8,548.1 L933.2,547.1 L934.6,546.5 L936.0,546.5 L937.4,545.5 L938.9,544.8 L940.3,545.0 L941.7,544.7 L943.1,544.0 L944.5,543.3 L946.0,542.0 L947.4,541.1 L948.8,541.4 L950.3,541.1 L951.7,540.5 L953.1,541.1 L954.6,541.2 L956.0,541.7 L957.3,542.4 L958.6,542.1 L959.9,541.5" stroke="#744d2d" stroke-width="2.85" fill="none" stroke-linejoin="round" stroke-linecap="butt"/>
<path d="M99.7,570.0 L100.5,568.6 L101.3,567.5 L102.1,566.3 L102.9,565.0 L103.2,563.7 L103.4,562.3 L103.7,560.9 L103.9,559.5 L104.2,558.2 L104.4,556.8 L104.7,555.5 L104.9,554.1 L105.2,552.7 L105.4,551.4 L105.7,550.0 L106.0,548.7 L106.2,547.4 L106.5,546.1 L106.8,544.8 L107.0,543.5 L107.3,542.2 L107.5,540.9 L107.8,539.6 L108.1,538.3 L108.3,537.0 L108.6,535.7 L108.9,534.4 L109.2,533.2 L109.5,531.9 L109.8,530.7 L110.2,529.4 L110.5,528.2 L110.8,526.9 L111.1,525.6 L111.4,524.3 L112.5,523.2 L113.6,522.2 L114.5,523.4 L115.5,524.6 L116.4,525.7 L117.1,527.0 L117.8,528.3 L118.6,529.7 L119.3,531.0 L120.0,532.2 L121.1,532.9 L122.2,533.8 L123.2,534.8 L124.3,535.8 L125.4,536.4 L126.4,537.2 L127.5,538.1 L128.6,538.8 L129.6,539.4 L130.7,540.4 L131.9,541.2 L133.2,541.5 L134.4,541.6 L135.7,542.0 L137.4,541.6 L139.0,541.5 L140.7,541.8 L142.0,541.7 L143.3,541.8 L144.5,542.4 L145.8,542.8 L147.1,542.9 L148.6,543.3 L150.0,543.4 L151.4,543.5 L152.9,544.4 L154.3,545.1 L155.7,545.3 L157.1,545.8 L158.3,546.9 L159.5,548.0 L160.7,549.3 L161.9,550.0 L163.1,550.5 L164.3,550.8 L165.6,550.3 L166.8,549.9 L168.1,549.3 L169.3,548.8 L170.3,547.8 L171.3,546.6 L172.3,545.4 L173.3,544.4 L174.3,543.5 L175.2,542.5 L176.0,541.4 L176.9,540.2 L177.7,539.0 L178.6,537.9 L179.7,537.1 L180.9,536.1 L182.0,535.3 L183.2,534.6 L184.3,533.7 L185.7,533.7 L187.2,534.1 L188.6,534.6 L190.0,535.0 L191.4,535.5 L192.8,535.3 L194.3,534.6 L195.7,534.8 L197.1,534.8 L198.6,534.2 L200.0,534.0 L201.4,533.6 L202.7,532.5 L203.9,531.9 L205.2,531.2 L206.4,530.1 L207.7,529.1 L208.9,528.4 L210.2,527.7 L211.4,526.9 L212.8,527.4 L214.2,527.5 L215.7,526.9 L217.1,527.0 L218.6,527.8 L220.0,528.2 L221.4,528.8 L222.9,529.2 L224.3,529.5 L225.7,530.5 L227.2,531.3 L228.6,531.6 L230.0,532.1 L231.1,532.8 L232.3,533.4 L233.4,534.1 L234.6,535.1 L235.7,535.8 L236.8,536.3 L238.0,537.0 L239.1,537.9 L240.3,538.7 L241.4,539.4 L242.8,539.6 L244.3,539.4 L245.7,538.7 L247.1,539.0 L248.5,539.6 L250.0,539.4 L251.4,539.4 L252.7,539.9 L254.0,540.1 L255.2,540.7 L256.5,541.5 L257.8,541.7 L259.1,541.9 L260.3,542.5 L261.6,543.1 L262.9,543.6 L264.6,544.2 L266.2,544.2 L267.9,543.9 L268.9,545.4 L269.9,546.6 L270.9,547.7 L271.9,548.8 L272.9,550.0 L274.1,550.5 L275.3,550.9 L276.5,551.5 L277.8,552.4 L279.0,552.9 L280.2,553.0 L281.4,553.4 L282.5,554.2 L283.7,554.9 L284.8,555.6 L286.0,556.6 L287.1,557.3 L288.6,558.1 L290.0,559.2 L291.2,560.1 L292.5,560.8 L293.7,561.4 L294.9,562.2 L296.1,562.7 L297.4,563.3 L298.6,564.3 L300.0,565.1 L301.4,565.1 L302.9,565.3 L304.3,565.6 L305.7,565.8 L307.1,566.4 L308.5,567.0 L310.0,567.1 L311.4,567.5 L312.8,568.2 L314.3,568.6 L315.7,569.1 L317.1,569.2 L318.6,568.9 L320.0,569.3 L321.4,570.1 L322.9,570.2 L324.3,570.4 L325.6,570.9 L327.0,571.2 L328.3,571.8 L329.6,572.5 L331.0,572.8 L332.3,573.0 L333.7,573.7 L335.0,574.3 L336.7,574.0 L338.3,573.7 L340.0,572.7 L341.4,572.8 L342.9,573.4 L344.3,573.5 L345.7,573.7 L347.1,574.0 L348.5,574.0 L350.0,574.5 L351.4,575.1 L352.8,574.2 L354.2,573.6 L355.7,573.3 L357.1,572.9 L358.5,572.8 L360.0,572.7 L361.4,571.8 L362.8,571.3 L364.3,571.2 L365.7,570.7 L367.1,571.1 L368.6,571.5 L370.0,571.6 L371.4,572.2 L372.9,573.1 L374.3,573.3 L375.5,572.4 L376.8,571.8 L378.0,571.0 L379.2,570.3 L380.4,569.9 L381.7,569.4 L382.9,568.5 L384.3,568.1 L385.8,568.2 L387.2,567.9 L388.6,567.6 L390.0,567.3 L391.4,566.6 L392.9,566.3 L394.3,566.6 L395.6,566.3 L396.8,565.8 L398.1,565.6 L399.4,565.1 L400.6,564.7 L401.9,564.6 L403.2,564.5 L404.4,563.7 L405.7,563.3 L406.9,562.9 L408.2,562.4 L409.4,561.8 L410.7,561.4 L411.9,560.6 L413.2,559.6 L414.4,559.0 L415.7,558.6 L417.1,558.2 L418.6,557.6 L420.0,557.2 L421.4,556.6 L422.9,556.2 L424.3,556.1 L425.7,555.4 L427.1,554.6 L428.5,554.3 L429.8,554.0 L431.2,553.7 L432.6,553.7 L434.1,553.0 L435.5,552.3 L437.0,552.3 L438.5,552.0 L439.9,551.5 L441.4,551.2 L442.8,550.8 L444.3,550.9 L445.7,551.5 L447.1,551.3 L448.5,550.7 L450.0,550.7 L451.4,550.4 L452.8,550.3 L454.3,550.5 L455.7,549.9 L457.1,549.4 L458.6,549.5 L460.0,549.3 L461.5,548.9 L462.9,548.7 L464.3,548.0 L465.7,547.6 L467.1,548.0 L468.6,547.7 L470.0,547.2 L471.4,547.0 L472.8,546.2 L474.2,545.6 L475.7,545.4 L477.1,544.6 L478.6,544.1 L480.0,544.4 L481.4,544.5 L482.9,544.5 L484.3,543.8 L485.8,542.7 L487.2,541.8 L488.6,541.4 L490.0,540.9 L491.4,540.1 L492.9,539.6 L494.3,538.9 L495.7,538.2 L497.1,538.1 L498.5,537.5 L500.0,536.6 L501.4,536.2 L502.5,535.6 L503.7,535.0 L504.8,534.4 L506.0,533.9 L507.1,533.0 L508.6,532.2 L510.0,532.0 L511.4,531.6 L512.9,531.0 L514.3,531.4 L515.8,531.4 L517.2,531.7 L518.6,532.5 L520.0,533.3 L521.5,533.9 L522.9,534.9 L524.0,536.0 L525.0,537.0 L526.0,538.2 L527.1,539.4 L528.0,540.6 L528.8,541.6 L529.7,542.6 L530.5,543.8 L531.4,545.0 L532.3,546.4 L533.1,547.6 L534.0,548.9 L534.8,550.1 L535.7,551.4 L536.6,552.7 L537.4,553.9 L538.3,555.1 L539.1,556.5 L540.0,558.0 L540.9,559.2 L541.7,560.3 L542.6,561.4 L543.4,562.5 L544.3,563.6 L545.4,564.7 L546.5,565.7 L547.5,566.8 L548.6,568.1 L549.7,568.9 L550.7,569.4 L551.8,570.1 L552.9,571.0 L553.9,571.9 L555.0,572.7 L556.3,573.4 L557.7,574.0 L559.0,574.2 L560.3,574.6 L561.6,575.5 L563.0,576.2 L564.3,576.7 L565.5,577.5 L566.8,578.2 L568.0,578.7 L569.2,579.6 L570.4,580.5 L571.7,581.0 L572.9,581.5 L574.1,582.0 L575.3,582.8 L576.6,583.3 L577.8,584.1 L579.0,584.8 L580.2,585.1 L581.5,585.3 L582.7,586.1 L583.9,586.8 L585.2,587.1 L586.5,587.5 L587.8,588.1 L589.1,588.3 L590.4,588.9 L591.7,589.7 L593.0,590.1 L594.3,590.2 L595.7,590.2 L597.1,590.3 L598.6,590.4 L600.0,591.1 L601.4,591.3 L602.8,590.6 L604.3,591.2 L605.7,591.7 L607.1,591.4 L608.6,593.1 L608.8,594.5 L609.0,595.8 L609.2,597.2 L609.4,598.5 L609.7,599.9 L609.9,601.2 L610.1,602.6 L610.3,603.9 L610.5,605.3 L610.7,606.6 L610.9,605.3 L611.0,603.9 L611.2,602.5 L611.4,601.2 L611.5,599.8 L611.7,598.4 L611.9,597.1 L612.1,595.7 L612.2,594.3 L612.4,593.0 L612.6,591.6 L612.7,590.3 L612.9,588.9 L613.4,590.5 L614.0,591.9 L614.5,593.3 L615.0,594.7 L615.3,593.3 L615.6,592.0 L615.9,590.6 L616.2,589.3 L616.5,588.0 L616.8,586.6 L617.1,585.3 L618.2,584.6 L619.3,583.7 L619.9,585.1 L620.4,586.4 L621.0,587.7 L621.5,589.1 L622.1,590.4 L623.1,591.3 L624.0,592.0 L625.0,592.9 L626.0,591.8 L626.9,590.6 L627.9,589.2 L628.6,590.4 L629.3,591.6 L630.0,592.8 L630.7,594.0 L631.4,592.6 L632.1,591.1 L632.9,589.7 L633.6,588.5 L634.3,587.3 L635.7,587.9 L637.2,587.6 L638.6,587.8 L640.0,588.4 L641.5,588.8 L642.9,589.9 L644.3,590.6 L645.5,589.2 L646.7,588.3 L647.8,587.7 L649.0,587.0 L650.2,586.2 L651.4,585.6 L652.8,586.5 L654.3,586.9 L655.7,588.0 L657.1,587.8 L658.5,587.1 L660.0,586.7 L661.4,586.3 L662.8,585.8 L664.3,586.3 L665.7,586.4 L667.2,585.3 L668.6,584.9 L669.8,586.4 L670.9,587.5 L672.1,588.9 L672.6,587.7 L673.2,586.5 L673.8,585.3 L674.3,584.0 L675.7,583.9 L677.1,584.4 L678.6,585.1 L680.0,585.0 L681.4,585.3 L682.8,584.6 L684.2,583.7 L685.7,583.7 L687.1,583.7 L688.5,583.5 L690.0,583.4 L691.4,583.5 L692.9,583.3 L694.3,584.0 L695.7,584.1 L697.2,583.2 L698.6,583.3 L700.0,583.8 L701.5,583.5 L702.9,583.4 L704.3,583.1 L705.7,582.1 L707.2,582.5 L708.6,583.3 L710.0,582.9 L711.4,582.8 L712.8,582.7 L714.3,582.2 L715.7,582.6 L717.1,582.9 L718.4,581.9 L719.7,581.6 L721.1,582.2 L722.4,582.3 L723.7,582.5 L725.0,582.8 L726.4,582.1 L727.7,581.3 L729.0,581.7 L730.3,582.1 L731.7,581.7 L733.0,581.7 L734.3,581.7 L735.7,581.5 L737.2,582.2 L738.6,582.8 L740.0,582.0 L741.5,581.8 L742.9,582.1 L744.3,581.7 L745.8,581.6 L747.2,581.3 L748.6,580.1 L750.0,580.1 L751.5,580.8 L752.9,580.6 L754.3,580.6 L755.7,580.6 L757.1,580.2 L758.6,580.9 L760.0,581.8 L761.4,581.0 L762.8,580.3 L764.3,580.1 L765.7,579.5 L767.1,579.6 L768.5,580.2 L770.0,579.6 L771.4,579.7 L772.9,580.5 L774.3,580.6 L775.7,580.2 L777.1,579.8 L778.6,578.8 L780.0,578.7 L781.4,579.3 L782.8,579.1 L784.3,578.8 L785.7,578.9 L787.1,578.4 L788.6,578.6 L790.0,579.0 L791.4,578.0 L792.9,577.6 L794.3,578.2 L795.5,578.8 L796.8,579.6 L798.0,580.4 L799.3,580.7 L800.5,579.6 L801.8,579.3 L803.0,579.3 L804.3,578.6 L806.0,578.3 L807.6,578.0 L809.3,577.5 L810.6,578.1 L812.0,578.2 L813.3,577.1 L814.6,576.8 L815.9,577.0 L817.3,577.0 L818.6,577.3 L820.0,577.2 L821.4,576.1 L822.9,575.5 L824.3,575.6 L825.7,575.0 L827.1,574.6 L828.6,574.6 L830.0,574.0 L831.4,574.2 L832.8,575.1 L834.2,574.6 L835.7,573.8 L837.1,573.8 L838.5,573.4 L840.0,573.7 L841.4,574.3 L842.8,573.6 L844.2,573.2 L845.7,574.0 L847.1,574.0 L848.4,573.0 L849.7,572.4 L851.0,571.4 L852.3,570.5 L853.7,571.4 L855.2,572.1 L856.6,572.0 L858.1,572.3 L859.5,572.4 L860.8,572.0 L862.1,572.4 L863.4,572.4 L864.7,571.5 L866.0,571.2 L867.3,571.7 L868.8,571.5 L870.2,571.4 L871.6,571.1 L873.1,570.0 L874.5,569.6 L876.0,570.0 L877.4,569.7 L878.8,569.4 L880.2,569.4 L881.7,568.9 L883.1,569.0 L884.5,569.4 L885.8,568.3 L887.0,567.3 L888.3,567.0 L889.5,566.8 L890.8,566.3 L892.1,566.0 L893.4,565.4 L894.7,564.2 L896.0,563.4 L897.3,563.1 L898.2,562.1 L899.0,561.0 L899.9,559.9 L900.7,559.0 L901.6,558.0 L902.8,556.8 L903.9,555.8 L905.1,555.1 L906.2,554.3 L907.4,553.1 L908.4,551.8 L909.3,550.8 L910.2,549.9 L911.2,548.9 L912.1,547.9 L913.1,547.1 L914.5,547.8 L916.0,547.5 L917.4,547.6 L918.8,547.6 L920.2,547.0 L921.7,546.3 L923.1,545.7 L924.5,544.6 L926.0,544.0 L927.5,544.0 L928.9,543.2 L930.3,542.2 L931.8,541.5 L933.2,540.5 L934.6,539.9 L936.0,539.9 L937.4,539.0 L938.9,538.3 L940.3,538.4 L941.7,538.1 L943.1,537.4 L944.5,536.7 L946.0,535.5 L947.4,534.6 L948.8,534.7 L950.3,534.2 L951.7,533.5 L953.1,534.0 L954.6,533.9 L956.0,534.3 L958.0,534.9 L959.9,533.6" stroke="#aa000e" stroke-width="3.2" fill="none" stroke-linejoin="round" stroke-linecap="butt"/>
<path d="M99.5,617.5 L99.8,616.1 L100.1,614.8 L100.4,613.5 L100.7,612.2 L101.0,610.9 L101.4,609.6 L101.7,608.3 L102.0,607.0 L102.3,605.7 L102.6,604.4 L102.9,603.0 L103.1,601.7 L103.3,600.4 L103.5,599.1 L103.8,597.8 L104.0,596.5 L104.2,595.1 L104.4,593.8 L104.6,592.5 L104.8,591.2 L105.1,589.9 L105.3,588.6 L105.5,587.3 L105.7,586.0 L105.9,584.7 L106.1,583.4 L106.3,582.0 L106.5,580.7 L106.7,579.4 L106.9,578.1 L107.1,576.8 L107.2,575.5 L107.4,574.1 L107.6,572.8 L107.8,571.5 L108.0,570.2 L108.2,568.9 L108.4,567.6 L108.6,566.3 L108.9,564.9 L109.3,563.7 L109.7,562.4 L110.0,561.1 L110.3,559.8 L110.7,558.4 L111.1,557.1 L111.4,555.8 L113.0,554.2 L113.9,555.7 L114.8,557.2 L115.7,558.7 L116.3,560.0 L116.9,561.3 L117.5,562.6 L118.1,564.0 L118.7,565.3 L119.3,566.7 L120.3,567.6 L121.3,568.4 L122.3,569.5 L123.3,570.7 L124.3,571.8 L125.4,572.6 L126.4,573.5 L127.5,574.5 L128.6,575.3 L129.6,576.1 L130.7,577.2 L131.9,577.9 L133.2,578.3 L134.4,578.5 L135.7,578.9 L136.9,578.2 L138.2,577.4 L139.4,576.8 L140.7,576.3 L142.0,575.6 L143.3,575.1 L144.5,575.1 L145.8,575.1 L147.1,574.8 L148.6,574.9 L150.0,574.5 L151.4,573.9 L152.9,574.3 L154.3,574.8 L155.7,574.9 L157.1,575.3 L158.2,576.3 L159.2,577.3 L160.3,578.3 L161.4,579.5 L163.2,580.2 L165.0,580.5 L166.2,580.0 L167.5,579.5 L168.8,578.9 L170.0,578.4 L170.9,577.4 L171.7,576.2 L172.6,575.1 L173.4,574.1 L174.3,573.2 L175.2,572.2 L176.0,571.0 L176.9,569.8 L177.7,568.6 L178.6,567.5 L180.0,566.7 L181.4,566.0 L182.9,565.8 L184.3,565.2 L185.7,564.9 L187.2,564.9 L188.6,565.1 L190.0,565.1 L191.4,565.5 L192.8,565.6 L194.3,565.2 L195.7,565.6 L197.1,565.7 L198.6,565.2 L200.0,564.9 L201.4,564.5 L202.7,563.7 L203.9,563.4 L205.2,563.3 L206.4,562.7 L207.7,562.0 L208.9,561.6 L210.2,561.1 L211.4,560.5 L212.8,560.8 L214.2,560.9 L215.7,560.3 L217.1,560.5 L218.3,561.5 L219.4,562.2 L220.6,562.8 L221.7,563.5 L222.9,563.9 L224.3,564.1 L225.7,564.9 L227.2,565.8 L228.6,566.1 L230.0,566.7 L231.2,567.4 L232.4,567.9 L233.6,568.6 L234.7,569.5 L235.9,570.0 L237.1,570.3 L238.5,570.0 L240.0,570.4 L241.4,570.4 L242.8,570.7 L244.3,570.7 L245.7,570.0 L246.9,570.7 L248.1,571.5 L249.3,571.9 L250.5,572.3 L251.7,572.8 L252.9,573.3 L254.0,574.0 L255.0,574.8 L256.1,575.9 L257.1,576.7 L258.2,577.2 L259.3,577.8 L260.3,578.5 L261.4,579.3 L262.7,579.7 L264.0,580.3 L265.3,580.9 L266.6,581.1 L267.9,581.4 L268.7,582.9 L269.6,584.2 L270.4,585.5 L271.2,586.7 L272.1,587.9 L272.9,589.2 L274.0,590.0 L275.0,590.8 L276.1,591.6 L277.2,592.7 L278.3,593.8 L279.4,594.6 L280.4,595.3 L281.5,596.2 L282.8,597.0 L284.1,597.7 L285.4,598.6 L286.7,599.5 L288.0,600.1 L289.5,600.3 L291.0,601.2 L292.5,601.8 L294.0,602.2 L294.9,603.1 L295.7,604.0 L296.6,604.9 L297.4,605.8 L298.3,606.8 L299.1,608.0 L300.0,609.1 L301.2,609.8 L302.5,610.5 L303.7,611.4 L304.9,612.2 L306.1,613.0 L307.4,613.9 L308.6,614.8 L309.9,615.0 L311.2,615.3 L312.4,616.1 L313.7,616.8 L315.0,617.4 L316.3,618.1 L317.6,618.5 L318.8,618.7 L320.1,619.3 L321.4,620.2 L322.7,620.3 L324.0,620.4 L325.2,620.8 L326.5,621.1 L327.8,621.4 L329.1,622.1 L330.3,622.5 L331.6,622.3 L332.9,622.4 L334.3,622.4 L335.7,622.2 L337.1,622.3 L338.6,622.3 L340.0,621.7 L341.4,621.5 L342.8,622.2 L344.3,622.2 L345.7,622.1 L347.1,622.2 L348.6,622.1 L350.0,622.5 L351.4,623.3 L352.9,623.1 L354.3,623.0 L355.7,622.9 L357.1,622.5 L358.6,622.3 L360.0,622.3 L361.4,621.2 L362.9,620.5 L364.3,620.2 L365.7,619.5 L367.1,619.8 L368.6,620.1 L370.0,620.0 L371.5,620.5 L372.9,621.3 L374.1,620.4 L375.3,619.5 L376.5,618.8 L377.8,618.1 L379.0,617.2 L380.2,616.5 L381.4,615.9 L382.6,615.1 L383.9,614.3 L385.1,613.9 L386.4,613.6 L387.6,613.1 L388.9,612.7 L390.1,612.2 L391.4,611.3 L392.5,610.5 L393.7,610.1 L394.8,609.6 L396.0,608.8 L397.1,608.1 L398.3,607.5 L399.4,606.9 L400.6,606.2 L401.8,605.8 L402.9,605.3 L404.0,604.3 L405.2,603.2 L406.3,602.4 L407.5,601.8 L408.6,601.0 L409.7,600.2 L410.9,599.6 L412.0,598.8 L413.2,597.8 L414.3,597.0 L415.6,596.6 L416.8,596.0 L418.1,595.2 L419.3,594.5 L420.6,593.9 L421.8,593.1 L423.1,592.7 L424.3,592.4 L425.5,591.8 L426.8,590.9 L428.0,590.4 L429.2,589.9 L430.4,589.2 L431.7,588.7 L432.9,588.4 L434.2,587.7 L435.6,587.1 L436.9,587.0 L438.3,586.8 L439.6,586.2 L441.0,585.8 L442.3,585.3 L443.6,584.7 L444.9,584.8 L446.2,584.9 L447.5,584.5 L448.8,584.1 L450.1,583.9 L451.4,583.6 L452.7,583.0 L454.0,582.7 L455.2,582.0 L456.5,581.1 L457.8,580.6 L459.1,580.3 L460.3,579.8 L461.6,579.3 L462.9,578.8 L464.1,577.9 L465.3,576.9 L466.5,576.4 L467.8,575.9 L469.0,575.0 L470.2,574.2 L471.4,573.6 L472.6,573.0 L473.9,572.3 L475.1,572.0 L476.3,571.5 L477.5,570.5 L478.8,569.6 L480.0,569.2 L481.2,568.4 L482.5,567.6 L483.7,567.0 L484.9,566.2 L486.1,565.2 L487.4,564.3 L488.6,563.7 L489.6,562.9 L490.6,562.0 L491.6,561.1 L492.7,560.3 L493.7,559.4 L494.7,558.5 L495.7,557.8 L496.8,557.2 L498.0,556.5 L499.1,555.4 L500.3,554.4 L501.4,553.5 L502.5,552.8 L503.7,552.0 L504.8,551.4 L506.0,550.9 L507.1,550.0 L508.6,549.2 L510.0,549.1 L511.4,548.7 L512.9,548.0 L514.3,548.4 L515.7,548.6 L517.1,548.9 L518.0,550.2 L518.8,551.4 L519.7,552.5 L520.5,553.4 L521.4,554.3 L522.1,555.6 L522.8,556.9 L523.5,558.2 L524.3,559.5 L525.0,560.8 L525.7,562.1 L526.4,563.4 L527.1,564.7 L527.9,566.0 L528.6,567.2 L529.3,568.4 L530.0,569.6 L530.5,571.0 L531.1,572.3 L531.6,573.6 L532.1,574.9 L532.7,576.2 L533.2,577.5 L533.8,578.8 L534.3,580.0 L534.8,581.4 L535.3,582.7 L535.7,584.0 L536.2,585.3 L536.7,586.5 L537.2,587.8 L537.6,589.0 L538.1,590.3 L538.6,591.6 L539.1,592.8 L539.6,594.1 L540.1,595.4 L540.6,596.6 L541.1,597.8 L541.6,599.0 L542.1,600.2 L542.6,601.4 L543.1,602.6 L543.6,603.8 L544.1,605.1 L544.6,606.3 L545.1,607.5 L545.6,608.7 L546.1,609.9 L546.6,611.2 L547.1,612.4 L548.0,613.6 L548.8,614.7 L549.7,615.8 L550.5,616.7 L551.4,617.6 L552.3,618.6 L553.1,619.8 L554.0,620.9 L554.8,622.0 L555.7,623.1 L556.8,624.1 L557.9,625.1 L558.9,625.8 L560.0,626.5 L561.1,627.6 L562.1,628.6 L563.2,629.5 L564.3,630.2 L565.5,631.0 L566.8,631.8 L568.0,632.6 L569.2,633.6 L570.4,634.7 L571.7,635.4 L572.9,635.9 L574.1,636.4 L575.3,637.1 L576.6,637.5 L577.8,638.2 L579.0,638.9 L580.2,639.3 L581.5,639.7 L582.7,640.4 L583.9,641.3 L585.2,641.5 L586.5,641.7 L587.8,642.1 L589.1,642.1 L590.4,642.5 L591.7,643.4 L593.0,643.8 L594.3,643.9 L595.7,644.0 L597.1,644.3 L598.6,644.3 L600.0,644.7 L601.4,644.8 L602.8,644.1 L604.3,644.7 L605.7,645.5 L607.1,645.6 L608.5,646.3 L610.0,646.7 L611.0,645.3 L611.9,644.0 L612.9,643.1 L614.3,643.0 L615.8,642.3 L617.2,642.0 L618.6,641.7 L619.7,642.5 L620.8,643.6 L621.8,644.7 L622.9,645.5 L624.3,644.4 L625.7,644.0 L627.1,643.9 L628.5,644.6 L630.0,645.6 L631.4,646.2 L632.8,644.8 L634.3,644.0 L635.7,643.3 L637.1,643.3 L638.6,643.6 L640.0,644.0 L641.4,644.3 L642.9,645.3 L644.3,645.9 L645.7,644.5 L647.1,643.8 L648.6,643.3 L650.0,642.6 L651.4,642.2 L652.8,643.1 L654.3,643.5 L655.7,644.6 L657.1,644.9 L658.6,644.2 L660.0,643.8 L661.4,643.4 L662.9,642.7 L664.3,643.1 L665.7,644.0 L667.1,643.9 L668.6,644.1 L670.0,644.7 L671.4,643.5 L672.9,642.8 L674.3,641.8 L675.7,641.2 L677.1,641.6 L678.6,642.6 L680.0,642.6 L681.4,642.7 L682.8,642.1 L684.2,641.1 L685.7,641.1 L687.1,641.3 L688.5,641.2 L690.0,641.4 L691.4,641.9 L692.9,642.0 L694.3,642.7 L695.6,642.9 L696.9,641.9 L698.2,641.4 L699.5,642.0 L700.8,642.2 L702.1,642.2 L703.4,642.5 L704.7,642.1 L706.0,641.3 L707.3,641.6 L708.6,642.1 L709.9,641.7 L711.2,641.4 L712.5,641.7 L713.8,641.5 L715.1,641.8 L716.5,642.7 L717.8,642.5 L719.1,641.6 L720.4,641.6 L721.7,641.9 L723.0,641.8 L724.3,642.2 L725.7,642.4 L727.2,641.5 L728.6,641.6 L730.0,642.2 L731.4,641.7 L732.9,641.3 L734.3,641.1 L735.6,640.6 L736.9,640.9 L738.2,641.8 L739.5,641.6 L740.8,640.9 L742.1,640.9 L743.4,640.9 L744.7,640.6 L746.0,641.0 L747.3,641.0 L748.6,640.1 L750.0,640.2 L751.5,641.1 L752.9,641.0 L754.3,640.8 L755.7,640.6 L757.1,639.7 L758.6,639.9 L760.0,640.8 L761.4,640.2 L762.8,639.7 L764.3,639.8 L765.7,639.5 L767.1,639.5 L768.5,639.9 L770.0,639.0 L771.4,638.7 L772.9,639.6 L774.3,639.8 L775.7,639.7 L777.1,639.5 L778.6,638.6 L780.0,638.3 L781.4,638.7 L782.8,638.4 L784.3,637.9 L785.7,638.1 L787.1,637.9 L788.6,638.3 L790.0,638.9 L791.5,638.0 L792.9,637.3 L794.0,638.5 L795.0,639.4 L796.0,640.1 L797.1,641.0 L799.3,641.8 L800.5,640.7 L801.8,640.3 L803.0,639.9 L804.3,639.1 L806.0,638.6 L807.6,638.4 L809.3,638.0 L810.6,639.0 L812.0,639.5 L813.3,638.7 L814.6,638.4 L816.0,638.6 L817.3,638.4 L818.7,638.6 L820.0,639.0 L821.5,637.4 L822.9,636.4 L824.3,637.2 L825.7,637.3 L827.2,637.0 L828.6,637.0 L830.0,636.3 L831.4,636.3 L832.8,637.4 L834.3,637.3 L835.7,636.9 L837.1,637.2 L838.5,636.9 L840.0,636.9 L841.4,637.1 L842.8,636.2 L844.2,635.5 L845.7,636.1 L847.1,636.3 L848.5,635.8 L850.0,635.4 L851.4,634.4 L852.8,634.0 L854.3,634.9 L855.7,634.7 L857.2,634.2 L858.6,634.5 L860.0,634.3 L861.4,634.5 L862.9,635.1 L864.3,634.3 L865.7,633.4 L867.1,633.6 L868.1,632.9 L869.0,631.9 L870.0,631.0 L871.4,631.3 L872.9,630.6 L874.3,630.1 L875.7,630.7 L877.1,630.5 L878.6,629.8 L880.0,629.8 L881.4,629.4 L882.9,629.5 L884.3,630.3 L885.5,629.1 L886.7,627.9 L887.8,627.0 L889.0,626.3 L890.2,625.3 L891.4,624.5 L892.5,623.9 L893.7,623.0 L894.8,621.8 L896.0,620.9 L897.1,620.5 L897.7,619.2 L898.3,618.0 L898.9,616.7 L899.6,615.4 L900.2,614.2 L900.8,613.0 L901.4,611.7 L902.4,610.6 L903.3,609.5 L904.2,608.6 L905.2,607.9 L906.1,607.2 L907.1,606.2 L908.0,605.0 L909.0,603.9 L909.9,603.0 L910.9,602.0 L911.8,600.9 L912.7,599.9 L913.7,599.0 L914.6,598.1 L916.0,597.8 L917.5,597.7 L918.9,598.7 L920.1,598.1 L921.3,597.3 L922.5,596.7 L923.6,595.9 L924.8,594.7 L926.0,594.0 L927.2,593.6 L928.5,592.8 L929.7,591.7 L930.9,590.9 L932.1,590.2 L933.4,589.4 L934.6,588.7 L935.8,588.2 L937.0,587.2 L938.2,585.8 L939.5,585.0 L940.7,584.5 L941.9,583.7 L943.1,582.9 L944.3,582.3 L945.5,581.3 L946.7,580.2 L947.9,579.5 L949.1,579.0 L950.3,578.0 L951.7,577.0 L953.1,576.3 L954.6,575.5 L956.0,574.9 L957.3,576.2 L958.6,576.8 L959.9,576.9" stroke="#a7a900" stroke-width="3.1" fill="none" stroke-linejoin="round" stroke-linecap="butt"/>
<path d="M99.5,620.5 L99.8,619.1 L100.1,617.8 L100.4,616.5 L100.7,615.2 L101.0,613.9 L101.4,612.6 L101.7,611.3 L102.0,610.0 L102.3,608.7 L102.6,607.4 L102.9,606.0 L103.1,604.7 L103.3,603.3 L103.5,602.0 L103.8,600.6 L104.0,599.3 L104.2,598.0 L104.4,596.6 L104.6,595.3 L104.8,593.9 L105.1,592.6 L105.3,591.3 L105.5,589.9 L105.7,588.6 L105.9,587.3 L106.1,585.9 L106.3,584.6 L106.5,583.3 L106.7,581.9 L106.9,580.6 L107.1,579.2 L107.2,577.9 L107.4,576.6 L107.6,575.2 L107.8,573.9 L108.0,572.6 L108.2,571.2 L108.4,569.9 L108.6,568.6 L108.9,567.2 L109.3,565.9 L109.7,564.6 L110.0,563.3 L110.3,562.0 L110.7,560.7 L111.1,559.3 L111.4,558.0 L113.1,556.3 L114.0,557.8 L114.8,559.2 L115.7,560.7 L116.3,562.0 L116.9,563.3 L117.5,564.6 L118.1,566.0 L118.7,567.3 L119.3,568.7 L120.3,569.6 L121.3,570.4 L122.3,571.5 L123.3,572.7 L124.3,573.8 L125.4,574.6 L126.4,575.5 L127.5,576.5 L128.6,577.3 L129.6,578.1 L130.7,579.2 L132.4,580.1 L134.0,580.3 L135.7,580.7 L136.9,580.0 L138.2,579.2 L139.4,578.6 L140.7,578.1 L142.0,577.4 L143.3,576.9 L144.5,576.9 L145.8,576.9 L147.1,576.6 L148.6,576.7 L150.0,576.3 L151.4,575.7 L152.9,576.1 L154.3,576.6 L155.7,576.7 L157.1,577.1 L158.2,578.1 L159.2,579.1 L160.3,580.1 L161.4,581.3 L163.2,582.0 L165.0,582.3 L166.2,581.8 L167.5,581.3 L168.8,580.7 L170.0,580.2 L170.9,579.2 L171.7,578.0 L172.6,576.9 L173.4,575.9 L174.3,575.0 L175.2,574.0 L176.0,572.8 L176.9,571.6 L177.7,570.4 L178.6,569.3 L180.0,568.5 L181.4,567.8 L182.9,567.6 L184.3,567.0 L185.7,566.7 L187.2,566.7 L188.6,566.9 L190.0,566.9 L191.4,567.3 L192.8,567.4 L194.3,567.0 L195.7,567.4 L197.1,567.5 L198.6,567.0 L200.0,566.7 L201.4,566.3 L202.7,565.5 L203.9,565.2 L205.2,565.1 L206.4,564.5 L207.7,563.8 L208.9,563.4 L210.2,562.9 L211.4,562.3 L212.8,562.6 L214.2,562.7 L215.7,562.1 L217.1,562.3 L218.3,563.3 L219.4,564.0 L220.6,564.6 L221.7,565.3 L222.9,565.7 L224.3,565.9 L225.7,566.7 L227.2,567.6 L228.6,568.0 L230.0,568.6 L231.2,569.3 L232.4,569.9 L233.6,570.6 L234.7,571.5 L235.9,572.0 L237.1,572.3 L238.5,572.0 L240.0,572.4 L241.4,572.4 L242.8,572.7 L244.3,572.7 L245.7,572.0 L246.9,572.7 L248.1,573.5 L249.3,573.9 L250.5,574.3 L251.7,574.8 L252.9,575.3 L254.0,576.0 L255.0,576.8 L256.1,577.9 L257.1,578.7 L258.2,579.2 L259.3,579.8 L260.3,580.5 L261.4,581.3 L262.7,581.7 L264.0,582.3 L265.3,582.9 L266.6,583.1 L267.9,583.4 L268.6,584.7 L269.3,585.9 L270.0,587.1 L270.8,588.2 L271.5,589.2 L272.2,590.3 L272.9,591.4 L274.0,592.3 L275.0,593.0 L276.1,593.9 L277.2,595.0 L278.3,596.1 L279.4,597.0 L280.4,597.7 L281.5,598.6 L282.6,599.4 L283.7,600.1 L284.8,600.8 L285.8,601.7 L286.9,602.6 L288.0,603.1 L289.5,603.4 L291.0,604.3 L292.5,604.9 L294.0,605.4 L295.0,606.4 L296.0,607.5 L297.0,608.4 L298.0,609.5 L299.0,610.8 L300.0,612.1 L301.1,612.9 L302.1,613.6 L303.2,614.5 L304.3,615.3 L305.4,616.1 L306.5,616.9 L307.5,617.9 L308.6,618.8 L309.9,619.1 L311.2,619.5 L312.4,620.3 L313.7,621.1 L315.0,621.7 L316.3,622.5 L317.6,623.0 L318.8,623.3 L320.1,624.0 L321.4,624.9 L322.8,624.9 L324.3,625.0 L325.7,625.3 L327.1,625.4 L328.6,625.9 L330.0,626.5 L331.5,626.2 L332.9,626.1 L334.3,626.4 L335.7,626.4 L337.1,626.7 L338.6,627.1 L340.0,626.7 L341.4,626.7 L342.8,627.4 L344.3,627.5 L345.7,627.6 L347.1,627.8 L348.5,627.7 L350.0,628.2 L351.4,629.0 L352.8,628.6 L354.2,628.1 L355.7,628.1 L357.1,627.8 L358.3,627.4 L359.6,627.1 L360.8,626.5 L362.0,625.7 L363.2,625.4 L364.5,625.3 L365.7,624.8 L367.1,625.1 L368.6,625.4 L370.0,625.3 L371.5,625.8 L372.9,626.6 L374.1,625.7 L375.3,624.8 L376.5,624.1 L377.8,623.4 L379.0,622.6 L380.2,621.9 L381.4,621.3 L382.6,620.5 L383.9,619.6 L385.1,619.2 L386.4,618.8 L387.6,618.2 L388.9,617.8 L390.1,617.2 L391.4,616.3 L392.5,615.5 L393.7,615.1 L394.8,614.6 L396.0,613.8 L397.1,613.1 L398.3,612.5 L399.4,611.9 L400.6,611.2 L401.8,610.8 L402.9,610.3 L404.0,609.3 L405.2,608.2 L406.3,607.4 L407.5,606.8 L408.6,606.0 L409.7,605.2 L410.9,604.6 L412.0,603.8 L413.2,602.8 L414.3,602.0 L415.6,601.6 L416.8,601.0 L418.1,600.2 L419.3,599.5 L420.6,598.9 L421.8,598.1 L423.1,597.7 L424.3,597.4 L425.5,596.8 L426.8,595.9 L428.0,595.4 L429.2,594.9 L430.4,594.2 L431.7,593.7 L432.9,593.4 L434.2,592.6 L435.6,591.9 L436.9,591.7 L438.3,591.3 L439.6,590.6 L441.0,590.1 L442.3,589.5 L443.7,588.9 L445.0,588.9 L446.3,588.9 L447.7,588.4 L449.0,587.9 L450.4,587.7 L451.7,587.3 L453.0,587.0 L454.4,586.9 L455.7,586.2 L456.9,585.3 L458.2,584.9 L459.4,584.6 L460.7,583.9 L461.9,583.4 L463.2,582.8 L464.4,581.9 L465.7,581.1 L466.9,580.8 L468.2,580.3 L469.4,579.5 L470.6,578.8 L471.8,578.3 L473.1,577.6 L474.3,577.1 L475.5,576.8 L476.8,576.1 L478.0,575.1 L479.2,574.4 L480.4,574.0 L481.7,573.4 L482.9,572.9 L484.0,572.2 L485.0,571.4 L486.1,570.4 L487.1,569.5 L488.2,568.9 L489.3,568.2 L490.3,567.3 L491.4,566.3 L492.5,565.5 L493.5,564.7 L494.6,563.8 L495.7,563.1 L496.8,562.5 L497.9,561.9 L498.9,560.9 L500.0,559.9 L501.2,559.1 L502.4,558.3 L503.6,557.4 L504.7,556.6 L505.9,556.0 L507.1,555.0 L508.6,554.2 L510.0,554.1 L511.4,553.7 L512.9,553.0 L514.3,553.4 L515.7,553.6 L517.1,553.9 L518.0,555.4 L518.8,556.7 L519.7,557.9 L520.5,558.9 L521.4,560.0 L522.1,561.2 L522.8,562.4 L523.5,563.6 L524.3,564.7 L525.0,565.9 L525.7,567.1 L526.3,568.4 L526.9,569.7 L527.5,571.0 L528.2,572.2 L528.8,573.4 L529.4,574.6 L530.0,575.9 L530.4,577.1 L530.9,578.4 L531.3,579.6 L531.8,580.9 L532.2,582.1 L532.7,583.4 L533.1,584.6 L533.6,585.8 L534.0,587.0 L534.5,588.4 L535.0,589.7 L535.5,591.0 L536.0,592.4 L536.6,593.7 L537.1,594.9 L537.6,596.2 L538.1,597.5 L538.6,598.8 L539.2,600.0 L539.7,601.3 L540.3,602.6 L540.9,603.9 L541.4,605.1 L542.0,606.3 L542.6,607.5 L543.1,608.7 L543.7,610.0 L544.3,611.2 L544.8,612.5 L545.4,613.7 L546.0,614.9 L546.5,616.1 L547.1,617.4 L547.9,618.5 L548.7,619.7 L549.4,620.7 L550.2,621.6 L551.0,622.5 L551.8,623.5 L552.6,624.6 L553.4,625.7 L554.1,626.8 L554.9,627.8 L555.7,628.9 L556.9,629.9 L558.2,630.7 L559.4,631.2 L560.6,632.0 L561.8,633.1 L563.1,633.9 L564.3,634.5 L565.5,635.3 L566.8,636.1 L568.0,636.9 L569.2,637.9 L570.4,639.0 L571.7,639.7 L572.9,640.2 L574.1,640.6 L575.3,641.2 L576.6,641.6 L577.8,642.2 L579.0,642.9 L580.2,643.2 L581.5,643.4 L582.7,644.1 L583.9,644.9 L585.2,645.1 L586.5,645.3 L587.8,645.6 L589.1,645.7 L590.4,646.0 L591.7,646.9 L593.0,647.4 L594.3,647.4 L595.7,647.6 L597.1,647.8 L598.6,647.8 L600.0,648.2 L601.4,648.4 L602.8,647.7 L604.3,648.3 L605.7,649.1 L607.1,649.2 L608.5,649.8 L610.0,650.0 L611.5,648.4 L612.9,647.4 L614.3,647.1 L615.8,646.2 L617.2,645.8 L618.6,645.3 L620.0,646.2 L621.5,647.5 L622.9,648.3 L624.3,647.3 L625.7,647.1 L627.1,647.4 L628.5,648.0 L630.0,648.8 L631.4,649.3 L632.8,648.0 L634.3,647.5 L635.7,647.0 L637.1,646.8 L638.6,646.9 L640.0,647.2 L641.4,647.3 L642.9,648.3 L644.3,648.8 L645.7,647.4 L647.1,646.7 L648.6,646.3 L650.0,645.7 L651.4,645.4 L652.8,646.2 L654.3,646.4 L655.7,647.4 L657.1,647.9 L658.6,647.3 L660.0,647.0 L661.4,646.7 L662.9,646.1 L664.3,646.7 L665.7,647.7 L667.1,647.6 L668.6,647.9 L670.0,648.5 L671.4,647.4 L672.9,646.6 L674.3,645.7 L675.7,645.1 L677.1,645.6 L678.6,646.5 L680.0,646.6 L681.4,646.7 L682.8,646.1 L684.2,645.1 L685.7,645.1 L687.1,645.3 L688.5,645.2 L690.0,645.4 L691.4,645.9 L692.9,646.0 L694.3,646.7 L695.6,646.9 L696.9,645.9 L698.2,645.4 L699.5,646.0 L700.8,646.2 L702.1,646.2 L703.4,646.5 L704.7,646.1 L706.0,645.3 L707.3,645.6 L708.6,646.1 L709.9,645.7 L711.2,645.4 L712.5,645.7 L713.8,645.5 L715.1,645.8 L716.5,646.7 L717.8,646.5 L719.1,645.6 L720.4,645.6 L721.7,645.9 L723.0,645.8 L724.3,646.2 L725.7,646.4 L727.2,645.5 L728.6,645.6 L730.0,646.2 L731.4,645.7 L732.9,645.3 L734.3,645.1 L735.6,644.6 L736.9,644.9 L738.2,645.8 L739.5,645.6 L740.8,644.9 L742.1,644.9 L743.4,644.9 L744.7,644.6 L746.0,645.0 L747.3,645.0 L748.6,644.1 L750.0,644.2 L751.5,645.1 L752.9,645.0 L754.3,644.8 L755.7,644.6 L757.1,643.7 L758.6,643.9 L760.0,644.8 L761.4,644.2 L762.8,643.7 L764.3,643.8 L765.7,643.5 L767.1,643.5 L768.5,643.9 L770.0,643.0 L771.4,642.7 L772.9,643.6 L774.3,643.8 L775.7,643.7 L777.1,643.5 L778.6,642.6 L780.0,642.3 L781.4,642.7 L782.8,642.4 L784.3,641.9 L785.7,642.1 L787.1,641.9 L788.6,642.3 L790.0,642.9 L791.5,642.0 L792.9,641.3 L794.0,642.5 L795.0,643.4 L796.0,644.1 L797.1,645.0 L799.3,645.8 L800.5,644.7 L801.8,644.2 L803.0,643.9 L804.3,643.1 L806.0,642.6 L807.6,642.4 L809.3,642.0 L810.6,643.0 L812.0,643.5 L813.3,642.7 L814.6,642.4 L816.0,642.6 L817.3,642.4 L818.7,642.6 L820.0,643.0 L821.5,641.4 L822.9,640.4 L824.3,641.2 L825.7,641.3 L827.2,641.0 L828.6,641.0 L830.0,640.3 L831.4,640.3 L832.8,641.4 L834.3,641.3 L835.7,640.9 L837.1,641.2 L838.5,640.9 L840.0,640.9 L841.4,641.1 L842.8,640.2 L844.2,639.5 L845.7,640.1 L847.1,640.3 L848.5,639.8 L850.0,639.4 L851.4,638.4 L852.8,638.0 L854.3,638.9 L855.7,638.7 L857.2,638.2 L858.6,638.5 L860.0,638.3 L861.4,638.5 L862.9,639.1 L864.3,638.3 L865.7,637.4 L867.1,637.6 L868.1,636.9 L869.0,635.9 L870.0,635.0 L871.4,635.3 L872.9,634.6 L874.3,634.1 L875.7,634.7 L877.1,634.5 L878.6,633.8 L880.0,633.7 L881.4,633.2 L882.9,633.3 L884.3,634.1 L885.5,632.9 L886.7,631.7 L887.8,630.8 L889.0,630.1 L890.2,629.1 L891.4,628.3 L892.5,627.7 L893.7,626.8 L894.8,625.6 L896.0,624.8 L897.1,624.4 L897.7,623.2 L898.3,622.0 L898.9,620.8 L899.6,619.6 L900.2,618.4 L900.8,617.2 L901.4,616.0 L902.4,614.9 L903.3,613.7 L904.2,612.7 L905.2,612.0 L906.1,611.2 L907.1,610.2 L908.2,608.9 L909.4,608.0 L910.6,607.1 L911.7,606.0 L912.8,605.1 L914.0,604.4 L915.1,603.4 L916.3,602.0 L917.4,601.0 L918.6,600.8 L919.9,600.4 L921.1,599.7 L922.3,599.2 L923.5,598.5 L924.8,597.4 L926.0,596.8 L927.1,596.4 L928.1,595.7 L929.2,594.7 L930.3,593.7 L931.4,593.1 L932.5,592.3 L933.5,591.4 L934.6,590.8 L935.8,590.3 L937.0,589.3 L938.2,587.9 L939.5,587.1 L940.7,586.6 L941.9,585.8 L943.1,585.0 L944.3,584.4 L945.5,583.4 L946.7,582.3 L947.9,581.6 L949.1,581.1 L950.3,580.1 L951.7,579.1 L953.1,578.4 L954.6,577.6 L956.0,577.0 L957.3,578.1 L958.6,578.5 L959.9,578.4" stroke="#1794a6" stroke-width="3.2" fill="none" stroke-linejoin="round" stroke-linecap="butt"/>
<path d="M512.45,48 V676.5" stroke="#262626" stroke-width="1.1" fill="none"/>
<path d="M597.1,88.2 L526.5,72.9" stroke="#4d7f7c" stroke-width="1.1" fill="none"/>
<path d="M647.0,235.7 L520.8,475.1" stroke="#8a6a4c" stroke-width="1.1" fill="none"/>
<path d="M643.7,331.7 L522.3,518.9" stroke="#c02a3c" stroke-width="1.1" fill="none"/>
<path d="M631.4,430.7 L526.4,536.1" stroke="#c4c63a" stroke-width="1.1" fill="none"/>
<path d="M597.1,520.6 L526.5,548.1" stroke="#3aa6b8" stroke-width="1.1" fill="none"/>
<rect x="502.5" y="58.3" width="24.0" height="24.0" fill="none" stroke="#7fa3a1" stroke-width="1.1" stroke-dasharray="6.7 10.6 6.7 0"/>
<rect x="502.5" y="475.1" width="24.0" height="24.0" fill="none" stroke="#a08a74" stroke-width="1.1" stroke-dasharray="6.7 10.6 6.7 0"/>
<rect x="502.5" y="518.9" width="24.0" height="24.0" fill="none" stroke="#cf4a58" stroke-width="1.1" stroke-dasharray="6.7 10.6 6.7 0"/>
<rect x="502.5" y="536.1" width="24.0" height="24.0" fill="none" stroke="#c3c43c" stroke-width="1.1" stroke-dasharray="6.7 10.6 6.7 0"/>
<rect x="502.5" y="540.8" width="24.0" height="24.0" fill="none" stroke="#3fb0c0" stroke-width="1.1" stroke-dasharray="6.7 10.6 6.7 0"/>
<rect x="537.6" y="131.9" width="61" height="16.6" fill="#fff" stroke="#2797aa" stroke-width="1.1"/>
<text x="539" y="144.9" font-family="'Liberation Sans', Arial, sans-serif" font-size="14.1px" fill="#111">654,6 nm</text>
<rect x="598.1" y="68.9" width="135.3" height="68.4" fill="#fff" stroke="#4d7f7c" stroke-width="2.0"/>
<g font-family="'Liberation Sans', Arial, sans-serif" font-size="22.5px" fill="#111" stroke="#111" stroke-width="0.45">
<text y="94.4"><tspan x="601.6">λ:</tspan><tspan> </tspan><tspan x="624.5" textLength="61.92" lengthAdjust="spacingAndGlyphs">654,6</tspan><tspan> </tspan><tspan x="692.7" textLength="33.13" lengthAdjust="spacingAndGlyphs">nm</tspan></text>
<text y="124.9"><tspan x="602.1">A:</tspan><tspan> </tspan><tspan x="626.9" textLength="62.77" lengthAdjust="spacingAndGlyphs">0,880</tspan></text>
</g>
<rect x="598.1" y="165.7" width="135.3" height="69.0" fill="#fff" stroke="#6f4e2f" stroke-width="2.0"/>
<g font-family="'Liberation Sans', Arial, sans-serif" font-size="22.5px" fill="#111" stroke="#111" stroke-width="0.45">
<text y="191.2"><tspan x="601.6">λ:</tspan><tspan> </tspan><tspan x="624.5" textLength="61.92" lengthAdjust="spacingAndGlyphs">654,6</tspan><tspan> </tspan><tspan x="692.7" textLength="33.13" lengthAdjust="spacingAndGlyphs">nm</tspan></text>
<text y="221.7"><tspan x="602.1">A:</tspan><tspan> </tspan><tspan x="626.9" textLength="59.79" lengthAdjust="spacingAndGlyphs">0,252</tspan></text>
</g>
<rect x="598.9" y="262.0" width="135.5" height="68.7" fill="#fff" stroke="#a8081c" stroke-width="2.0"/>
<g font-family="'Liberation Sans', Arial, sans-serif" font-size="22.5px" fill="#111" stroke="#111" stroke-width="0.45">
<text y="287.5"><tspan x="602.4">λ:</tspan><tspan> </tspan><tspan x="625.3" textLength="61.92" lengthAdjust="spacingAndGlyphs">654,6</tspan><tspan> </tspan><tspan x="693.5" textLength="33.13" lengthAdjust="spacingAndGlyphs">nm</tspan></text>
<text y="318.0"><tspan x="602.9">A:</tspan><tspan> </tspan><tspan x="627.7" dx="0 0 -0.1115 -2.899 0" textLength="59.76" lengthAdjust="spacingAndGlyphs">0,186</tspan></text>
</g>
<rect x="599.1" y="360.6" width="135.3" height="69.1" fill="#fff" stroke="#a9a91c" stroke-width="2.0"/>
<g font-family="'Liberation Sans', Arial, sans-serif" font-size="22.5px" fill="#111" stroke="#111" stroke-width="0.45">
<text y="386.1"><tspan x="602.6">λ:</tspan><tspan> </tspan><tspan x="625.5" textLength="61.92" lengthAdjust="spacingAndGlyphs">654,6</tspan><tspan> </tspan><tspan x="693.7" textLength="33.13" lengthAdjust="spacingAndGlyphs">nm</tspan></text>
<text y="416.6"><tspan x="603.1">A:</tspan><tspan> </tspan><tspan x="627.9" dx="0 0 -0.11 -2.86 0" textLength="58.95" lengthAdjust="spacingAndGlyphs">0,160</tspan></text>
</g>
<rect x="598.1" y="459.3" width="135.3" height="69.0" fill="#fff" stroke="#2797aa" stroke-width="2.0"/>
<g font-family="'Liberation Sans', Arial, sans-serif" font-size="22.5px" fill="#111" stroke="#111" stroke-width="0.45">
<text y="484.8"><tspan x="601.6">λ:</tspan><tspan> </tspan><tspan x="624.5" textLength="61.92" lengthAdjust="spacingAndGlyphs">654,6</tspan><tspan> </tspan><tspan x="692.7" textLength="33.13" lengthAdjust="spacingAndGlyphs">nm</tspan></text>
<text y="515.3"><tspan x="602.1">A:</tspan><tspan> </tspan><tspan x="626.9" dx="0 0 -0.109 -2.834 0" textLength="58.42" lengthAdjust="spacingAndGlyphs">0,153</tspan></text>
</g>
<rect x="40.17" y="8.97" width="69.35" height="28.65" rx="4.5" fill="#fff" stroke="#5c5c5c" stroke-width="1.55"/>
<rect x="43.4" y="16.9" width="10.6" height="12.4" fill="#3e6b69"/>
<text x="60.7" y="28.1" font-family="'Liberation Sans', Arial, sans-serif" font-size="13.4px" fill="#111" stroke="#111" stroke-width="0.45">t=0 min</text>
<rect x="150.18" y="8.97" width="74.35" height="28.65" rx="4.5" fill="#fff" stroke="#5c5c5c" stroke-width="1.55"/>
<rect x="153.4" y="16.9" width="10.6" height="12.4" fill="#744d2d"/>
<text x="170.7" y="28.1" font-family="'Liberation Sans', Arial, sans-serif" font-size="13.4px" fill="#111" stroke="#111" stroke-width="0.45" textLength="50.4" lengthAdjust="spacingAndGlyphs">t=15 min</text>
<rect x="264.88" y="8.97" width="76.45" height="28.65" rx="4.5" fill="#fff" stroke="#5c5c5c" stroke-width="1.55"/>
<rect x="268.1" y="16.9" width="10.6" height="12.4" fill="#aa000e"/>
<text x="285.4" y="28.1" font-family="'Liberation Sans', Arial, sans-serif" font-size="13.4px" fill="#111" stroke="#111" stroke-width="0.45">t=30 min</text>
<rect x="382.17" y="8.97" width="76.95" height="28.65" rx="4.5" fill="#fff" stroke="#5c5c5c" stroke-width="1.55"/>
<rect x="385.4" y="16.9" width="10.6" height="12.4" fill="#a7a900"/>
<text x="402.7" y="28.1" font-family="'Liberation Sans', Arial, sans-serif" font-size="13.4px" fill="#111" stroke="#111" stroke-width="0.45">t=45 min</text>
<rect x="499.85" y="9.15" width="76.60" height="28.30" rx="4.5" fill="#fff" stroke="#111" stroke-width="1.9"/>
<rect x="502.9" y="16.9" width="10.6" height="12.4" fill="#1794a6"/>
<text x="520.2" y="28.1" font-family="'Liberation Sans', Arial, sans-serif" font-size="13.4px" fill="#111" stroke="#111" stroke-width="0.45">t=60 min</text>
<rect x="12.0" y="311.4" width="24.1" height="101.9" rx="4" fill="#fff" stroke="#3c3c3c" stroke-width="1.5"/>
<text transform="translate(29.3,388) rotate(-90)" font-family="'Liberation Sans', Arial, sans-serif" font-size="13.7px" fill="#1a1a1a" stroke="#1a1a1a" stroke-width="0.45">Absorbance</text>
<path d="M17.7,402 L30.8,395.3 L30.8,409.3 Z" fill="#f7e40e" stroke="#b3a516" stroke-width="0.9" stroke-linejoin="round"/>
<path d="M22.8,402 H26.6" stroke="#1a1a10" stroke-width="2" stroke-linecap="round"/><circle cx="28.6" cy="402" r="0.9" fill="#3a3a20"/>
<rect x="1" y="1" width="985" height="742" fill="none" stroke="#a8c4f5" stroke-width="2"/>
<rect x="2.7" y="2.15" width="981.5" height="738.65" rx="1.2" fill="none" stroke="#4783e6" stroke-width="3.4"/>
</svg>
</body></html>
